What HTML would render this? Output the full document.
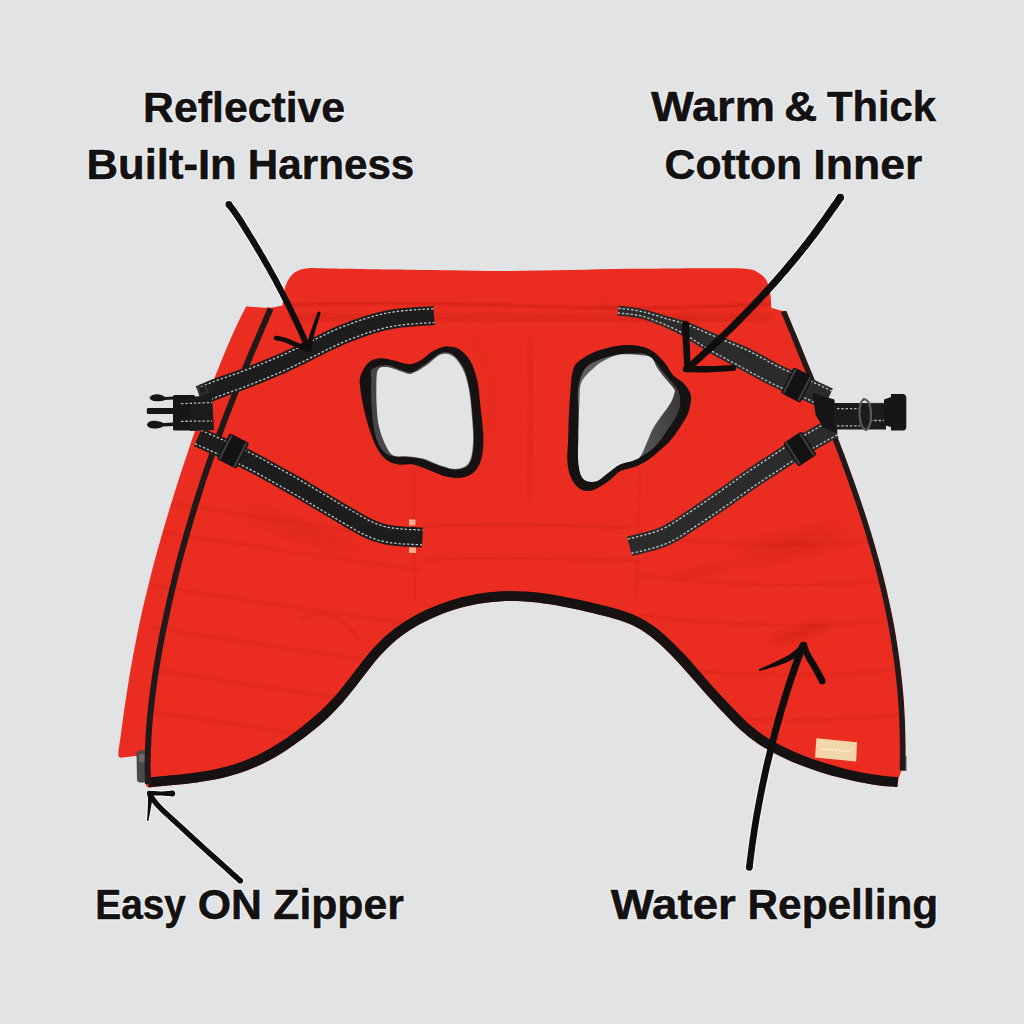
<!DOCTYPE html>
<html><head><meta charset="utf-8">
<style>
html,body{margin:0;padding:0;width:1024px;height:1024px;overflow:hidden;background:#e2e3e5;}
svg{display:block;position:absolute;left:0;top:0;}
text{font-family:"Liberation Sans",sans-serif;font-weight:bold;font-size:42.9px;fill:#131111;stroke:#131111;stroke-width:0.6px;}
.halo text{fill:#f7f7f7;stroke:#f7f7f7;stroke-width:2.4px;stroke-linejoin:round;}
</style></head>
<body>
<svg width="1024" height="1024" viewBox="0 0 1024 1024">
<rect width="1024" height="1024" fill="#e2e3e5"/>
<path d="M246.3,306.3 C249.8,306.6 261.0,307.9 267.0,307.8 C273.0,307.7 279.9,305.9 282.5,305.5 C282.8,302.8 283.2,293.8 284.5,289.0 C285.8,284.2 288.2,279.6 290.5,276.5 C292.8,273.4 295.6,271.9 298.5,270.5 C301.4,269.1 304.8,268.7 308.0,268.3 C311.2,267.9 314.3,268.2 318.0,268.2 C321.7,268.2 323.0,268.3 330.0,268.4 C337.0,268.5 349.3,268.7 360.0,268.9 C370.7,269.1 379.0,269.3 394.0,269.5 C409.0,269.7 431.3,270.1 450.0,270.3 C468.7,270.6 486.0,271.1 506.0,271.0 C526.0,270.9 549.7,270.4 570.0,270.0 C590.3,269.6 609.7,269.1 628.0,268.8 C646.3,268.5 664.7,268.5 680.0,268.4 C695.3,268.3 710.8,268.3 720.0,268.3 C729.2,268.3 730.8,268.2 735.0,268.3 C739.2,268.4 742.0,268.4 745.0,268.7 C748.0,269.0 750.3,269.0 753.0,270.0 C755.7,271.0 758.7,272.6 761.0,274.5 C763.3,276.4 765.5,278.4 767.0,281.5 C768.5,284.6 769.6,288.6 770.3,293.0 C771.0,297.4 771.1,305.2 771.3,307.7 L780.5,310.5 L786.4,311.2 C788.1,315.2 793.2,327.2 796.5,335.3 C799.8,343.4 803.0,351.4 806.3,359.5 C809.6,367.6 812.9,375.6 816.2,383.6 C819.5,391.7 822.7,399.8 825.9,407.8 C829.1,415.9 832.4,423.8 835.5,431.9 C838.6,439.9 841.8,448.1 844.8,456.1 C847.8,464.2 850.7,472.1 853.6,480.2 C856.5,488.2 859.3,496.3 862.0,504.4 C864.7,512.4 867.3,520.5 869.8,528.5 C872.3,536.5 874.6,544.7 876.9,552.7 C879.2,560.8 881.4,568.8 883.4,576.8 C885.4,584.8 887.3,593.0 889.1,601.0 C890.9,609.0 892.5,617.1 894.0,625.1 C895.5,633.1 896.8,641.2 898.0,649.3 C899.2,657.3 900.3,665.3 901.2,673.4 C902.1,681.5 903.0,689.5 903.6,697.6 C904.2,705.7 904.7,713.7 905.0,721.7 C905.3,729.8 905.5,737.9 905.6,745.9 C905.7,753.9 905.4,766.0 905.4,770.0 L901.0,771.5 L898.5,779.0 L897.5,787.0 C895.6,786.9 890.4,786.6 886.2,786.2 C882.0,785.8 877.3,785.2 872.3,784.4 C867.3,783.6 861.6,782.6 856.2,781.5 C850.8,780.4 845.1,779.0 839.6,777.6 C834.1,776.2 828.5,774.6 823.0,772.9 C817.5,771.1 811.9,769.3 806.4,767.3 C800.9,765.3 795.3,763.1 789.8,760.7 C784.3,758.2 778.7,755.7 773.3,752.8 C768.0,750.0 762.6,746.9 757.7,743.5 C752.7,740.2 748.1,736.5 743.7,732.6 C739.2,728.8 735.2,724.6 730.9,720.4 C726.6,716.1 722.4,711.6 718.0,707.0 C713.6,702.3 709.0,697.4 704.5,692.3 C700.0,687.3 695.4,681.9 690.9,676.7 C686.3,671.5 681.8,666.2 677.1,661.2 C672.5,656.3 667.8,651.4 663.0,647.0 C658.3,642.6 653.5,638.4 648.7,634.9 C643.9,631.4 639.3,628.5 634.2,626.0 C629.2,623.5 624.2,621.7 618.1,619.8 C612.1,617.9 605.5,616.3 598.2,614.5 C591.0,612.7 582.8,610.8 574.8,609.1 C566.8,607.4 558.2,605.6 550.0,604.3 C541.8,603.0 533.4,602.0 525.3,601.5 C517.2,601.0 509.4,600.9 501.6,601.2 C493.7,601.6 486.3,602.4 478.4,603.8 C470.6,605.2 462.6,607.1 454.7,609.5 C446.7,612.0 438.3,615.3 430.8,618.7 C423.3,622.2 415.9,626.3 409.7,630.2 C403.5,634.2 398.3,638.2 393.4,642.4 C388.5,646.7 384.5,650.9 380.2,655.6 C376.0,660.3 372.0,665.5 367.8,670.7 C363.7,675.9 359.5,681.7 355.3,687.0 C351.1,692.3 347.1,697.4 342.6,702.6 C338.0,707.7 333.6,712.5 328.0,717.7 C322.4,722.9 316.0,728.4 309.1,733.8 C302.1,739.2 294.1,745.2 286.3,750.2 C278.6,755.2 270.5,759.9 262.6,763.8 C254.7,767.6 246.9,770.7 239.0,773.3 C231.0,775.9 222.9,777.8 214.8,779.5 C206.7,781.1 198.3,782.2 190.6,783.3 C182.8,784.3 175.3,784.9 168.3,785.6 C161.3,786.3 152.1,787.2 148.8,787.5 L146.0,786.0 L145.5,770.0 L145.5,757.0 L135.3,756.0 L120.4,757.8 C120.1,757.2 118.2,757.9 118.3,754.0 C118.4,750.1 120.0,741.0 120.9,734.5 C121.8,728.0 122.6,721.6 123.5,715.1 C124.4,708.6 125.4,702.1 126.4,695.6 C127.4,689.1 128.4,682.6 129.5,676.1 C130.6,669.6 131.7,663.2 132.9,656.7 C134.1,650.2 135.4,643.7 136.7,637.2 C138.0,630.7 139.3,624.2 140.7,617.7 C142.1,611.2 143.6,604.8 145.2,598.3 C146.8,591.8 148.4,585.3 150.0,578.8 C151.6,572.3 153.3,565.8 155.0,559.3 C156.7,552.8 158.6,546.4 160.4,539.9 C162.2,533.4 164.2,526.9 166.1,520.4 C168.0,513.9 170.0,507.5 172.0,501.0 C174.0,494.5 176.0,488.0 178.1,481.5 C180.2,475.0 182.3,468.5 184.5,462.0 C186.7,455.5 188.8,449.1 191.0,442.6 C193.2,436.1 195.5,429.6 197.8,423.1 C200.1,416.6 202.4,410.1 204.8,403.6 C207.2,397.1 209.6,390.7 212.1,384.2 C214.6,377.7 217.2,371.2 219.8,364.7 C222.4,358.2 225.1,351.7 227.9,345.2 C230.7,338.7 233.4,332.3 236.5,325.8 C239.6,319.3 244.7,309.6 246.3,306.3 Z" fill="#eb2d21"/>
<defs><clipPath id="jc"><path d="M246.3,306.3 C249.8,306.6 261.0,307.9 267.0,307.8 C273.0,307.7 279.9,305.9 282.5,305.5 C282.8,302.8 283.2,293.8 284.5,289.0 C285.8,284.2 288.2,279.6 290.5,276.5 C292.8,273.4 295.6,271.9 298.5,270.5 C301.4,269.1 304.8,268.7 308.0,268.3 C311.2,267.9 314.3,268.2 318.0,268.2 C321.7,268.2 323.0,268.3 330.0,268.4 C337.0,268.5 349.3,268.7 360.0,268.9 C370.7,269.1 379.0,269.3 394.0,269.5 C409.0,269.7 431.3,270.1 450.0,270.3 C468.7,270.6 486.0,271.1 506.0,271.0 C526.0,270.9 549.7,270.4 570.0,270.0 C590.3,269.6 609.7,269.1 628.0,268.8 C646.3,268.5 664.7,268.5 680.0,268.4 C695.3,268.3 710.8,268.3 720.0,268.3 C729.2,268.3 730.8,268.2 735.0,268.3 C739.2,268.4 742.0,268.4 745.0,268.7 C748.0,269.0 750.3,269.0 753.0,270.0 C755.7,271.0 758.7,272.6 761.0,274.5 C763.3,276.4 765.5,278.4 767.0,281.5 C768.5,284.6 769.6,288.6 770.3,293.0 C771.0,297.4 771.1,305.2 771.3,307.7 L780.5,310.5 L786.4,311.2 C788.1,315.2 793.2,327.2 796.5,335.3 C799.8,343.4 803.0,351.4 806.3,359.5 C809.6,367.6 812.9,375.6 816.2,383.6 C819.5,391.7 822.7,399.8 825.9,407.8 C829.1,415.9 832.4,423.8 835.5,431.9 C838.6,439.9 841.8,448.1 844.8,456.1 C847.8,464.2 850.7,472.1 853.6,480.2 C856.5,488.2 859.3,496.3 862.0,504.4 C864.7,512.4 867.3,520.5 869.8,528.5 C872.3,536.5 874.6,544.7 876.9,552.7 C879.2,560.8 881.4,568.8 883.4,576.8 C885.4,584.8 887.3,593.0 889.1,601.0 C890.9,609.0 892.5,617.1 894.0,625.1 C895.5,633.1 896.8,641.2 898.0,649.3 C899.2,657.3 900.3,665.3 901.2,673.4 C902.1,681.5 903.0,689.5 903.6,697.6 C904.2,705.7 904.7,713.7 905.0,721.7 C905.3,729.8 905.5,737.9 905.6,745.9 C905.7,753.9 905.4,766.0 905.4,770.0 L901.0,771.5 L898.5,779.0 L897.5,787.0 C895.6,786.9 890.4,786.6 886.2,786.2 C882.0,785.8 877.3,785.2 872.3,784.4 C867.3,783.6 861.6,782.6 856.2,781.5 C850.8,780.4 845.1,779.0 839.6,777.6 C834.1,776.2 828.5,774.6 823.0,772.9 C817.5,771.1 811.9,769.3 806.4,767.3 C800.9,765.3 795.3,763.1 789.8,760.7 C784.3,758.2 778.7,755.7 773.3,752.8 C768.0,750.0 762.6,746.9 757.7,743.5 C752.7,740.2 748.1,736.5 743.7,732.6 C739.2,728.8 735.2,724.6 730.9,720.4 C726.6,716.1 722.4,711.6 718.0,707.0 C713.6,702.3 709.0,697.4 704.5,692.3 C700.0,687.3 695.4,681.9 690.9,676.7 C686.3,671.5 681.8,666.2 677.1,661.2 C672.5,656.3 667.8,651.4 663.0,647.0 C658.3,642.6 653.5,638.4 648.7,634.9 C643.9,631.4 639.3,628.5 634.2,626.0 C629.2,623.5 624.2,621.7 618.1,619.8 C612.1,617.9 605.5,616.3 598.2,614.5 C591.0,612.7 582.8,610.8 574.8,609.1 C566.8,607.4 558.2,605.6 550.0,604.3 C541.8,603.0 533.4,602.0 525.3,601.5 C517.2,601.0 509.4,600.9 501.6,601.2 C493.7,601.6 486.3,602.4 478.4,603.8 C470.6,605.2 462.6,607.1 454.7,609.5 C446.7,612.0 438.3,615.3 430.8,618.7 C423.3,622.2 415.9,626.3 409.7,630.2 C403.5,634.2 398.3,638.2 393.4,642.4 C388.5,646.7 384.5,650.9 380.2,655.6 C376.0,660.3 372.0,665.5 367.8,670.7 C363.7,675.9 359.5,681.7 355.3,687.0 C351.1,692.3 347.1,697.4 342.6,702.6 C338.0,707.7 333.6,712.5 328.0,717.7 C322.4,722.9 316.0,728.4 309.1,733.8 C302.1,739.2 294.1,745.2 286.3,750.2 C278.6,755.2 270.5,759.9 262.6,763.8 C254.7,767.6 246.9,770.7 239.0,773.3 C231.0,775.9 222.9,777.8 214.8,779.5 C206.7,781.1 198.3,782.2 190.6,783.3 C182.8,784.3 175.3,784.9 168.3,785.6 C161.3,786.3 152.1,787.2 148.8,787.5 L146.0,786.0 L145.5,770.0 L145.5,757.0 L135.3,756.0 L120.4,757.8 C120.1,757.2 118.2,757.9 118.3,754.0 C118.4,750.1 120.0,741.0 120.9,734.5 C121.8,728.0 122.6,721.6 123.5,715.1 C124.4,708.6 125.4,702.1 126.4,695.6 C127.4,689.1 128.4,682.6 129.5,676.1 C130.6,669.6 131.7,663.2 132.9,656.7 C134.1,650.2 135.4,643.7 136.7,637.2 C138.0,630.7 139.3,624.2 140.7,617.7 C142.1,611.2 143.6,604.8 145.2,598.3 C146.8,591.8 148.4,585.3 150.0,578.8 C151.6,572.3 153.3,565.8 155.0,559.3 C156.7,552.8 158.6,546.4 160.4,539.9 C162.2,533.4 164.2,526.9 166.1,520.4 C168.0,513.9 170.0,507.5 172.0,501.0 C174.0,494.5 176.0,488.0 178.1,481.5 C180.2,475.0 182.3,468.5 184.5,462.0 C186.7,455.5 188.8,449.1 191.0,442.6 C193.2,436.1 195.5,429.6 197.8,423.1 C200.1,416.6 202.4,410.1 204.8,403.6 C207.2,397.1 209.6,390.7 212.1,384.2 C214.6,377.7 217.2,371.2 219.8,364.7 C222.4,358.2 225.1,351.7 227.9,345.2 C230.7,338.7 233.4,332.3 236.5,325.8 C239.6,319.3 244.7,309.6 246.3,306.3 Z"/></clipPath><filter id="b1" x="-20%" y="-20%" width="140%" height="140%"><feGaussianBlur stdDeviation="1.2"/></filter><filter id="b3" x="-20%" y="-20%" width="140%" height="140%"><feGaussianBlur stdDeviation="3.5"/></filter><filter id="b8" x="-20%" y="-20%" width="140%" height="140%"><feGaussianBlur stdDeviation="8"/></filter></defs>
<g clip-path="url(#jc)"><path d="M290,281 L770,281" stroke="#f6553f" stroke-width="16" opacity="0.35" filter="url(#b3)"/><path d="M286,305 Q400,301 520,306 T772,304" stroke="#a8160c" stroke-width="2.2" opacity="0.45" fill="none" filter="url(#b1)"/><path d="M290,316 Q420,312 520,318 T770,316" stroke="#b81a10" stroke-width="12" opacity="0.28" fill="none" filter="url(#b3)"/><path d="M530,340 Q535,420 528,500" stroke="#b71a10" stroke-width="9" opacity="0.25" fill="none" filter="url(#b3)"/><path d="M423,526 Q520,522 630,528" stroke="#a8160c" stroke-width="1.6" opacity="0.4" fill="none" filter="url(#b1)"/><path d="M423,559 Q520,556 640,561" stroke="#a8160c" stroke-width="1.6" opacity="0.35" fill="none" filter="url(#b1)"/><path d="M413,470 L415,600" stroke="#b01a10" stroke-width="1.5" opacity="0.35" fill="none" filter="url(#b1)"/><path d="M640,470 L636,600" stroke="#b01a10" stroke-width="1.5" opacity="0.3" fill="none" filter="url(#b1)"/><path d="M150,500 Q260,518 420,540" stroke="#b51b10" stroke-width="1.4" opacity="0.35" fill="none" filter="url(#b1)"/><path d="M150,530 Q260,548 420,570" stroke="#b51b10" stroke-width="1.4" opacity="0.35" fill="none" filter="url(#b1)"/><path d="M150,585 Q260,603 420,625" stroke="#b51b10" stroke-width="1.4" opacity="0.35" fill="none" filter="url(#b1)"/><path d="M150,627 Q260,645 420,667" stroke="#b51b10" stroke-width="1.4" opacity="0.35" fill="none" filter="url(#b1)"/><path d="M150,669 Q260,687 420,709" stroke="#b51b10" stroke-width="1.4" opacity="0.35" fill="none" filter="url(#b1)"/><path d="M150,711 Q260,729 420,751" stroke="#b51b10" stroke-width="1.4" opacity="0.35" fill="none" filter="url(#b1)"/><path d="M640,535 Q760,552 900,540" stroke="#b51b10" stroke-width="1.4" opacity="0.3" fill="none" filter="url(#b1)"/><path d="M640,575 Q760,592 900,580" stroke="#b51b10" stroke-width="1.4" opacity="0.3" fill="none" filter="url(#b1)"/><path d="M640,615 Q760,632 900,620" stroke="#b51b10" stroke-width="1.4" opacity="0.3" fill="none" filter="url(#b1)"/><path d="M640,665 Q760,682 900,670" stroke="#b51b10" stroke-width="1.4" opacity="0.3" fill="none" filter="url(#b1)"/><path d="M640,710 Q760,727 900,715" stroke="#b51b10" stroke-width="1.4" opacity="0.3" fill="none" filter="url(#b1)"/><ellipse cx="790" cy="545" rx="55" ry="12" fill="#b3190f" opacity="0.22" filter="url(#b8)" transform="rotate(-12 790 545)"/><ellipse cx="300" cy="530" rx="60" ry="10" fill="#b3190f" opacity="0.18" filter="url(#b8)" transform="rotate(18 300 530)"/><ellipse cx="800" cy="633" rx="32" ry="6" fill="#b3190f" opacity="0.28" filter="url(#b3)" transform="rotate(-18 800 633)"/><ellipse cx="700" cy="572" rx="30" ry="5" fill="#b3190f" opacity="0.2" filter="url(#b3)" transform="rotate(-10 700 572)"/><path d="M600,300 Q640,330 690,318" stroke="#b3190f" stroke-width="5" opacity="0.22" fill="none" filter="url(#b3)"/><path d="M300,620 Q330,600 360,640" stroke="#b3190f" stroke-width="3" opacity="0.2" fill="none" filter="url(#b1)"/><path d="M470,330 Q500,380 490,440" stroke="#b3190f" stroke-width="4" opacity="0.18" fill="none" filter="url(#b3)"/></g>
<path d="M897.5,787.0 C895.6,786.9 890.4,786.6 886.2,786.2 C882.0,785.8 877.3,785.2 872.3,784.4 C867.3,783.6 861.6,782.6 856.2,781.5 C850.8,780.4 845.1,779.0 839.6,777.6 C834.1,776.2 828.5,774.6 823.0,772.9 C817.5,771.1 811.9,769.3 806.4,767.3 C800.9,765.3 795.3,763.1 789.8,760.7 C784.3,758.2 778.7,755.7 773.3,752.8 C768.0,750.0 762.6,746.9 757.7,743.5 C752.7,740.2 748.1,736.5 743.7,732.6 C739.2,728.8 735.2,724.6 730.9,720.4 C726.6,716.1 722.4,711.6 718.0,707.0 C713.6,702.3 709.0,697.4 704.5,692.3 C700.0,687.3 695.4,681.9 690.9,676.7 C686.3,671.5 681.8,666.2 677.1,661.2 C672.5,656.3 667.8,651.4 663.0,647.0 C658.3,642.6 653.5,638.4 648.7,634.9 C643.9,631.4 639.3,628.5 634.2,626.0 C629.2,623.5 624.2,621.7 618.1,619.8 C612.1,617.9 605.5,616.3 598.2,614.5 C591.0,612.7 582.8,610.8 574.8,609.1 C566.8,607.4 558.2,605.6 550.0,604.3 C541.8,603.0 533.4,602.0 525.3,601.5 C517.2,601.0 509.4,600.9 501.6,601.2 C493.7,601.6 486.3,602.4 478.4,603.8 C470.6,605.2 462.6,607.1 454.7,609.5 C446.7,612.0 438.3,615.3 430.8,618.7 C423.3,622.2 415.9,626.3 409.7,630.2 C403.5,634.2 398.3,638.2 393.4,642.4 C388.5,646.7 384.5,650.9 380.2,655.6 C376.0,660.3 372.0,665.5 367.8,670.7 C363.7,675.9 359.5,681.7 355.3,687.0 C351.1,692.3 347.1,697.4 342.6,702.6 C338.0,707.7 333.6,712.5 328.0,717.7 C322.4,722.9 316.0,728.4 309.1,733.8 C302.1,739.2 294.1,745.2 286.3,750.2 C278.6,755.2 270.5,759.9 262.6,763.8 C254.7,767.6 246.9,770.7 239.0,773.3 C231.0,775.9 222.9,777.8 214.8,779.5 C206.7,781.1 198.3,782.2 190.6,783.3 C182.8,784.3 175.3,784.9 168.3,785.6 C161.3,786.3 152.1,787.2 148.8,787.5" stroke="#161212" stroke-width="20" fill="none" clip-path="url(#jc)"/>
<path d="M136.5,753 Q137,750.5 140,750.5 L144,750.5 Q147,751 147.5,754 L148,780 Q147.5,782.5 144.5,782.5 L139.5,782.5 Q137,782 137,779 Z" fill="#4b4b4b"/>
<rect x="139" y="754" width="6" height="8" rx="1" fill="#6a6a6a"/>
<path d="M900.5,756 L906.5,756 L906.5,771 L900.5,771 Z" fill="#4f4f4f"/>
<path d="M270.6,308.5 C269.0,312.3 264.1,323.6 260.9,331.1 C257.7,338.7 254.4,346.2 251.2,353.8 C248.0,361.4 244.9,368.8 241.8,376.4 C238.7,383.9 235.8,391.6 232.8,399.1 C229.8,406.7 226.8,414.1 224.0,421.7 C221.2,429.2 218.4,436.8 215.7,444.4 C213.0,451.9 210.3,459.5 207.7,467.0 C205.1,474.5 202.6,482.1 200.2,489.6 C197.8,497.2 195.4,504.7 193.1,512.3 C190.8,519.8 188.7,527.3 186.5,534.9 C184.3,542.5 182.2,550.0 180.2,557.6 C178.2,565.2 176.2,572.7 174.4,580.2 C172.6,587.8 170.8,595.4 169.1,602.9 C167.4,610.4 165.8,618.0 164.2,625.5 C162.6,633.0 161.2,640.6 159.8,648.1 C158.4,655.6 157.1,663.2 155.9,670.8 C154.7,678.3 153.7,685.8 152.7,693.4 C151.7,701.0 150.8,708.5 150.1,716.1 C149.4,723.7 148.8,731.2 148.4,738.7 C148.0,746.2 147.7,753.9 147.6,761.4 C147.5,768.9 147.9,780.2 148.0,784.0" stroke="#201a1a" stroke-width="6" fill="none"/>
<path d="M783.5,311.2 C785.2,315.2 790.3,327.2 793.6,335.3 C796.9,343.4 800.1,351.4 803.4,359.5 C806.7,367.6 810.0,375.6 813.3,383.6 C816.6,391.7 819.8,399.8 823.0,407.8 C826.2,415.9 829.5,423.8 832.6,431.9 C835.8,439.9 838.9,448.1 841.9,456.1 C844.9,464.2 847.8,472.1 850.7,480.2 C853.6,488.2 856.4,496.3 859.1,504.4 C861.8,512.4 864.4,520.5 866.9,528.5 C869.4,536.5 871.7,544.7 874.0,552.7 C876.3,560.8 878.5,568.8 880.5,576.8 C882.5,584.8 884.4,593.0 886.2,601.0 C888.0,609.0 889.6,617.1 891.1,625.1 C892.6,633.1 893.9,641.2 895.1,649.3 C896.3,657.3 897.4,665.3 898.3,673.4 C899.2,681.5 900.1,689.5 900.7,697.6 C901.3,705.7 901.8,713.7 902.1,721.7 C902.4,729.8 902.6,737.9 902.7,745.9 C902.8,753.9 902.5,766.0 902.5,770.0" stroke="#201a1a" stroke-width="5.6" fill="none" clip-path="url(#jc)"/>
<defs><linearGradient id="lg1" x1="0" y1="0" x2="1" y2="0"><stop offset="0" stop-color="#454343"/><stop offset="1" stop-color="#676565"/></linearGradient><linearGradient id="lg2" x1="1" y1="0" x2="0" y2="0"><stop offset="0" stop-color="#3a3838"/><stop offset="0.35" stop-color="#555353"/><stop offset="1" stop-color="#626060"/></linearGradient></defs>
<path d="M360.3,376.6 C361.5,372.5 364.4,366.4 367.6,363.4 C370.8,360.3 374.9,358.8 379.3,358.3 C383.7,357.8 389.1,359.5 394.0,360.5 C398.9,361.5 404.2,364.2 408.6,364.2 C413.0,364.2 416.4,362.6 420.3,360.5 C424.2,358.4 427.9,354.0 432.0,351.7 C436.1,349.4 440.8,347.1 445.2,346.6 C449.6,346.1 454.2,346.5 458.4,348.8 C462.5,351.1 466.9,355.1 470.1,360.5 C473.3,365.9 475.7,373.4 477.4,381.0 C479.1,388.6 479.4,396.9 480.4,405.9 C481.4,414.9 483.1,426.6 483.3,435.2 C483.5,443.8 483.3,451.1 481.8,457.2 C480.3,463.3 477.9,468.4 474.5,471.8 C471.1,475.2 466.2,477.0 461.3,477.7 C456.4,478.4 451.1,477.7 445.2,476.2 C439.3,474.7 431.6,470.8 426.2,468.9 C420.8,466.9 417.6,465.2 413.0,464.5 C408.4,463.8 402.7,465.2 398.3,464.5 C393.9,463.8 390.2,463.0 386.6,460.1 C383.0,457.2 379.3,452.3 376.4,446.9 C373.5,441.5 371.2,434.7 369.0,427.9 C366.8,421.1 364.6,412.5 363.2,405.9 C361.8,399.3 360.8,393.2 360.3,388.3 C359.8,383.4 359.1,380.8 360.3,376.6 Z" fill="#161212"/>
<path d="M372.0,369.3 C374.5,367.1 381.7,364.8 386.6,364.9 C391.5,365.0 397.1,368.8 401.3,370.0 C405.4,371.2 407.4,373.3 411.5,372.2 C415.7,371.1 421.3,366.6 426.2,363.4 C431.1,360.3 436.4,354.6 440.8,353.2 C445.2,351.7 448.8,352.2 452.5,354.6 C456.3,357.1 460.7,362.2 463.5,367.8 C466.3,373.4 467.9,380.8 469.4,388.3 C470.8,395.9 471.6,404.2 472.3,413.2 C473.0,422.3 474.3,434.1 473.8,442.5 C473.3,451.0 472.4,459.3 469.4,463.8 C466.3,468.3 460.7,469.4 455.5,469.6 C450.2,469.9 443.3,466.9 437.9,465.2 C432.5,463.5 428.1,460.7 423.2,459.4 C418.4,458.0 413.5,457.7 408.6,457.2 C403.7,456.7 397.8,457.2 393.9,456.4 C390.0,455.7 387.8,455.1 385.2,452.8 C382.5,450.5 379.8,447.2 377.8,442.5 C375.9,437.9 374.5,432.3 373.4,425.0 C372.3,417.6 371.6,406.4 371.2,398.6 C370.9,390.8 371.1,383.0 371.2,378.1 C371.4,373.2 369.4,371.5 372.0,369.3 Z" fill="url(#lg1)"/>
<path d="M377.8,370.0 C379.5,366.7 382.7,366.9 386.6,367.1 C390.5,367.3 397.1,370.4 401.3,371.5 C405.4,372.6 407.4,374.7 411.5,373.7 C415.7,372.7 421.3,368.8 426.2,365.6 C431.1,362.5 436.4,356.2 440.8,354.6 C445.2,353.1 448.9,353.7 452.5,356.1 C456.2,358.6 460.1,363.9 462.8,369.3 C465.5,374.7 467.2,381.0 468.6,388.3 C470.1,395.7 470.8,404.2 471.6,413.2 C472.3,422.3 473.5,434.2 473.0,442.5 C472.6,450.8 471.6,458.6 468.6,463.0 C465.7,467.4 460.6,468.7 455.5,468.9 C450.3,469.1 443.3,466.2 437.9,464.5 C432.5,462.8 428.1,460.0 423.2,458.6 C418.4,457.3 413.5,456.9 408.6,456.4 C403.7,456.0 397.5,457.1 393.9,455.7 C390.4,454.4 389.4,451.8 387.4,448.4 C385.3,445.0 383.0,439.6 381.5,435.2 C380.0,430.8 378.9,426.9 378.1,422.0 C377.3,417.1 377.0,411.8 376.7,405.9 C376.4,400.1 376.2,392.9 376.4,386.9 C376.6,380.9 376.1,373.3 377.8,370.0 Z" fill="#e2e3e5"/>
<path d="M572.2,374.0 C573.2,369.6 573.3,366.7 576.9,363.1 C580.5,359.5 586.8,355.1 594.0,352.2 C601.2,349.3 612.2,346.5 620.0,345.5 C627.8,344.5 634.8,345.1 640.5,346.2 C646.2,347.3 650.1,349.4 654.2,352.3 C658.3,355.2 661.9,359.4 665.1,363.3 C668.3,367.2 670.4,372.4 673.4,375.6 C676.4,378.8 680.3,379.9 682.9,382.4 C685.5,384.9 687.7,387.9 689.1,390.6 C690.5,393.3 691.2,395.2 691.1,398.8 C691.0,402.4 690.0,408.2 688.4,412.5 C686.8,416.8 684.3,420.5 681.6,424.8 C678.9,429.1 675.4,434.4 672.0,438.5 C668.6,442.6 665.1,445.8 661.0,449.4 C656.9,453.0 651.9,457.4 647.4,460.4 C642.9,463.4 638.3,465.4 633.7,467.2 C629.1,469.0 624.0,469.1 620.0,471.3 C616.0,473.5 614.0,477.2 609.7,480.3 C605.4,483.4 598.7,488.1 594.0,489.7 C589.3,491.3 585.2,491.3 581.6,489.7 C578.0,488.1 574.6,484.7 572.2,480.3 C569.9,475.9 568.1,470.4 567.5,463.1 C566.9,455.8 568.0,444.9 568.3,436.6 C568.5,428.3 568.6,420.9 569.0,413.1 C569.4,405.3 570.1,396.2 570.6,389.7 C571.1,383.2 571.2,378.4 572.2,374.0 Z" fill="#161212"/>
<path d="M578.0,390.0 C578.8,383.7 580.3,376.7 583.0,372.0 C585.7,367.3 588.2,364.9 594.0,362.0 C599.8,359.1 609.8,355.9 617.5,354.5 C625.2,353.1 635.0,353.4 640.0,353.5 C645.0,353.6 644.8,353.6 647.4,355.0 C650.0,356.4 652.9,358.9 655.6,361.9 C658.3,364.9 660.8,369.1 663.8,372.8 C666.8,376.5 670.9,380.6 673.4,383.8 C675.9,387.0 677.7,388.8 678.8,392.0 C679.9,395.2 680.4,399.4 680.2,403.0 C680.0,406.6 679.3,409.8 677.5,413.9 C675.7,418.0 672.2,423.1 669.2,427.6 C666.2,432.2 662.9,437.3 659.7,441.2 C656.5,445.1 654.0,447.8 650.1,450.8 C646.2,453.8 641.4,456.9 636.4,459.0 C631.4,461.1 624.7,460.9 620.0,463.1 C615.3,465.3 612.2,469.1 608.1,472.0 C604.0,474.9 599.8,479.4 595.6,480.5 C591.4,481.6 586.0,481.4 583.1,478.5 C580.2,475.6 579.2,470.1 578.4,463.1 C577.6,456.1 578.4,445.5 578.4,436.6 C578.4,427.8 578.5,417.8 578.4,410.0 C578.3,402.2 577.2,396.3 578.0,390.0 Z" fill="url(#lg2)"/>
<path d="M579.5,400.0 C580.0,390.9 579.2,387.3 581.6,381.9 C584.0,376.5 590.1,371.4 594.0,367.8 C597.9,364.2 600.7,362.2 605.0,360.0 C609.3,357.8 614.2,355.3 620.0,354.5 C625.8,353.7 634.8,354.4 640.0,355.0 C645.2,355.6 648.7,355.7 651.5,357.8 C654.3,359.9 654.7,364.0 657.0,367.4 C659.3,370.8 662.4,374.9 665.1,378.3 C667.8,381.7 671.8,385.6 673.4,387.9 C675.0,390.2 675.2,389.5 674.7,392.0 C674.2,394.5 672.9,398.9 670.6,403.0 C668.3,407.1 664.0,412.3 661.0,416.6 C658.0,420.9 655.1,424.8 652.8,428.9 C650.5,433.0 649.4,436.6 647.4,441.2 C645.4,445.8 642.8,453.1 640.5,456.3 C638.2,459.5 637.1,459.0 633.7,460.4 C630.3,461.8 624.3,462.4 620.0,464.5 C615.7,466.6 612.2,470.2 608.1,473.0 C604.0,475.8 599.8,480.6 595.6,481.5 C591.4,482.4 586.0,481.8 583.1,478.7 C580.2,475.6 579.2,470.1 578.4,463.1 C577.6,456.1 578.2,447.1 578.4,436.6 C578.6,426.1 579.0,409.1 579.5,400.0 Z" fill="#e2e3e5"/>
<path d="M816.4,738.2 L857,742.2 L856.2,761.4 L815,757.6 Z" fill="#f1d6aa"/>
<path d="M822,749 L850,751.5" stroke="#fff6e6" stroke-width="1.6" stroke-dasharray="3 1.2" opacity="0.8"/>
<rect x="409" y="519.5" width="6.5" height="6" fill="#f3a98a"/><rect x="409" y="547.5" width="7" height="5.5" fill="#f3a98a"/>
<path d="M204.3,405.6 L205.1,405.2 L206.1,404.8 L207.2,404.2 L208.4,403.7 L209.7,403.0 L211.1,402.4 L212.6,401.7 L214.2,401.0 L215.8,400.3 L217.4,399.6 L219.1,398.9 L220.7,398.3 L222.4,397.6 L224.2,396.9 L226.1,396.2 L228.1,395.5 L230.2,394.8 L232.4,394.0 L234.6,393.3 L236.9,392.5 L239.2,391.6 L241.7,390.7 L244.1,389.8 L246.6,388.8 L249.2,387.8 L251.9,386.8 L254.7,385.7 L257.6,384.5 L260.5,383.4 L263.4,382.2 L266.3,381.0 L269.2,379.8 L272.1,378.6 L274.8,377.4 L277.5,376.3 L279.9,375.3 L282.2,374.3 L284.3,373.4 L286.2,372.5 L288.1,371.7 L289.8,370.9 L291.5,370.1 L293.3,369.2 L295.1,368.3 L297.1,367.4 L299.2,366.4 L301.6,365.2 L304.3,364.0 L307.3,362.5 L310.6,360.9 L314.0,359.1 L317.6,357.3 L321.3,355.4 L325.1,353.5 L329.0,351.6 L332.8,349.7 L336.7,347.9 L340.4,346.2 L344.1,344.6 L347.7,343.1 L351.2,341.7 L354.8,340.3 L358.3,338.9 L361.9,337.6 L365.4,336.4 L368.9,335.2 L372.4,334.1 L375.9,333.0 L379.4,332.0 L382.9,331.1 L386.4,330.2 L389.9,329.5 L393.5,328.8 L397.4,328.2 L401.5,327.6 L405.8,327.2 L410.2,326.8 L414.5,326.4 L418.6,326.1 L422.6,325.8 L426.3,325.6 L429.6,325.4 L432.5,325.2 L434.8,325.0 L433.2,306.0 L431.1,306.2 L428.3,306.4 L425.1,306.6 L421.4,306.8 L417.3,307.0 L413.0,307.3 L408.5,307.7 L403.9,308.1 L399.3,308.6 L394.8,309.1 L390.3,309.8 L386.1,310.5 L382.1,311.4 L378.2,312.3 L374.3,313.3 L370.5,314.4 L366.7,315.5 L362.9,316.7 L359.1,318.0 L355.3,319.3 L351.6,320.6 L347.8,322.0 L344.1,323.5 L340.3,324.9 L336.4,326.5 L332.4,328.3 L328.4,330.1 L324.3,332.0 L320.3,333.9 L316.4,335.9 L312.5,337.8 L308.7,339.7 L305.2,341.4 L301.8,343.1 L298.6,344.7 L295.7,346.0 L293.1,347.3 L290.7,348.4 L288.5,349.4 L286.6,350.3 L284.8,351.1 L283.1,351.9 L281.5,352.7 L279.8,353.4 L278.1,354.2 L276.3,354.9 L274.3,355.8 L272.1,356.7 L269.6,357.7 L267.1,358.8 L264.4,359.9 L261.6,361.0 L258.7,362.2 L255.8,363.3 L252.9,364.5 L250.1,365.6 L247.2,366.7 L244.5,367.8 L241.9,368.8 L239.4,369.8 L237.0,370.6 L234.7,371.5 L232.4,372.3 L230.1,373.1 L227.9,373.8 L225.6,374.6 L223.5,375.3 L221.4,376.1 L219.3,376.8 L217.2,377.5 L215.2,378.2 L213.3,378.9 L211.3,379.7 L209.5,380.4 L207.6,381.2 L205.9,381.9 L204.2,382.7 L202.6,383.4 L201.1,384.0 L199.7,384.6 L198.5,385.2 L197.4,385.7 L196.5,386.1 L195.7,386.4 Z" fill="#1d1d1d"/><path d="M203.2,403.2 L204.0,402.8 L205.0,402.4 L206.1,401.9 L207.3,401.3 L208.7,400.7 L210.1,400.0 L211.6,399.3 L213.1,398.6 L214.8,397.9 L216.4,397.2 L218.1,396.5 L219.8,395.8 L221.5,395.2 L223.4,394.5 L225.3,393.8 L227.3,393.1 L229.4,392.3 L231.5,391.6 L233.7,390.8 L236.0,390.0 L238.4,389.2 L240.8,388.3 L243.2,387.4 L245.7,386.4 L248.3,385.4 L251.0,384.4 L253.7,383.3 L256.6,382.1 L259.5,380.9 L262.4,379.8 L265.4,378.6 L268.3,377.4 L271.1,376.2 L273.8,375.0 L276.4,373.9 L278.9,372.9 L281.2,371.9 L283.3,371.0 L285.2,370.1 L287.0,369.3 L288.7,368.5 L290.4,367.7 L292.2,366.9 L294.0,366.0 L296.0,365.1 L298.1,364.0 L300.5,362.9 L303.1,361.6 L306.2,360.2 L309.4,358.5 L312.9,356.8 L316.5,355.0 L320.2,353.1 L324.0,351.2 L327.8,349.3 L331.7,347.4 L335.6,345.5 L339.4,343.8 L343.1,342.2 L346.7,340.7 L350.3,339.2 L353.9,337.8 L357.4,336.5 L361.0,335.2 L364.5,333.9 L368.1,332.7 L371.6,331.6 L375.2,330.5 L378.7,329.5 L382.3,328.6 L385.8,327.7 L389.4,326.9 L393.1,326.2 L397.0,325.6 L401.2,325.1 L405.6,324.6 L409.9,324.2 L414.3,323.8 L418.5,323.5 L422.4,323.2 L426.1,323.0 L429.4,322.8 L432.3,322.6 L434.6,322.4" stroke="#c4c4c4" stroke-width="1.3" stroke-dasharray="2.4 1.9" fill="none"/><path d="M196.8,388.8 L197.6,388.5 L198.5,388.0 L199.6,387.6 L200.8,387.0 L202.2,386.4 L203.7,385.7 L205.3,385.0 L206.9,384.3 L208.7,383.6 L210.5,382.8 L212.3,382.1 L214.2,381.4 L216.1,380.6 L218.1,379.9 L220.1,379.2 L222.2,378.5 L224.3,377.8 L226.5,377.1 L228.7,376.3 L231.0,375.5 L233.2,374.7 L235.6,373.9 L237.9,373.1 L240.3,372.2 L242.8,371.2 L245.4,370.2 L248.2,369.2 L251.0,368.0 L253.9,366.9 L256.8,365.8 L259.7,364.6 L262.6,363.5 L265.4,362.3 L268.1,361.2 L270.6,360.1 L273.1,359.1 L275.3,358.2 L277.3,357.3 L279.1,356.5 L280.9,355.8 L282.5,355.0 L284.2,354.3 L285.9,353.5 L287.7,352.7 L289.7,351.7 L291.8,350.7 L294.2,349.6 L296.9,348.4 L299.8,347.0 L302.9,345.5 L306.3,343.8 L309.9,342.0 L313.7,340.1 L317.5,338.2 L321.5,336.3 L325.5,334.3 L329.5,332.4 L333.5,330.6 L337.5,328.9 L341.3,327.3 L345.1,325.9 L348.8,324.5 L352.5,323.1 L356.2,321.7 L359.9,320.4 L363.7,319.2 L367.4,318.0 L371.2,316.9 L375.0,315.8 L378.8,314.8 L382.7,313.9 L386.6,313.1 L390.7,312.3 L395.1,311.7 L399.6,311.1 L404.2,310.7 L408.8,310.3 L413.2,309.9 L417.5,309.6 L421.6,309.4 L425.3,309.2 L428.5,309.0 L431.3,308.8 L433.4,308.6" stroke="#c4c4c4" stroke-width="1.3" stroke-dasharray="2.4 1.9" fill="none"/>
<path d="M193.9,446.1 L196.1,447.1 L199.0,448.4 L202.2,449.8 L205.9,451.4 L209.8,453.2 L214.0,455.1 L218.4,457.0 L222.8,459.0 L227.2,461.0 L231.5,463.1 L235.7,465.0 L239.5,466.9 L243.3,468.9 L247.2,470.9 L251.2,473.0 L255.2,475.1 L259.2,477.3 L263.2,479.5 L267.2,481.7 L271.1,483.8 L274.8,485.9 L278.4,488.0 L281.9,489.9 L285.1,491.7 L288.1,493.4 L290.8,495.0 L293.4,496.5 L295.9,497.9 L298.2,499.2 L300.4,500.6 L302.6,501.9 L304.8,503.2 L307.0,504.5 L309.2,505.8 L311.5,507.2 L313.9,508.6 L316.4,510.1 L318.9,511.5 L321.4,513.0 L323.9,514.6 L326.5,516.1 L329.0,517.6 L331.6,519.1 L334.1,520.6 L336.6,522.1 L339.0,523.5 L341.4,524.9 L343.6,526.2 L345.8,527.4 L347.9,528.6 L350.0,529.8 L352.0,531.0 L354.0,532.1 L356.0,533.2 L358.0,534.3 L360.0,535.4 L362.0,536.4 L364.1,537.4 L366.1,538.4 L368.2,539.2 L370.1,540.0 L372.0,540.7 L373.8,541.4 L375.6,542.0 L377.4,542.6 L379.3,543.1 L381.1,543.5 L383.0,544.0 L384.9,544.4 L386.8,544.7 L388.9,545.1 L391.1,545.4 L393.6,545.7 L396.4,546.0 L399.3,546.3 L402.2,546.5 L405.3,546.7 L408.3,546.8 L411.2,547.0 L413.9,547.1 L416.4,547.2 L418.7,547.3 L420.5,547.4 L421.9,547.5 L423.1,527.5 L421.5,527.4 L419.6,527.3 L417.3,527.2 L414.8,527.1 L412.1,527.0 L409.3,526.9 L406.4,526.7 L403.6,526.5 L400.8,526.3 L398.2,526.1 L395.9,525.9 L393.9,525.6 L392.1,525.3 L390.3,525.0 L388.7,524.7 L387.2,524.4 L385.8,524.1 L384.4,523.7 L383.1,523.4 L381.8,523.0 L380.4,522.5 L379.0,522.0 L377.4,521.4 L375.8,520.8 L374.2,520.1 L372.6,519.3 L371.0,518.5 L369.3,517.7 L367.5,516.7 L365.7,515.8 L363.9,514.7 L361.9,513.6 L359.9,512.5 L357.9,511.3 L355.7,510.1 L353.6,508.8 L351.3,507.5 L349.0,506.2 L346.7,504.8 L344.3,503.4 L341.8,501.9 L339.3,500.4 L336.7,498.9 L334.2,497.4 L331.6,495.9 L329.1,494.4 L326.6,492.9 L324.1,491.4 L321.7,490.0 L319.4,488.6 L317.2,487.3 L315.1,486.0 L312.9,484.7 L310.6,483.4 L308.3,482.0 L306.0,480.6 L303.4,479.1 L300.8,477.6 L297.9,476.0 L294.9,474.3 L291.7,472.5 L288.2,470.5 L284.6,468.5 L280.8,466.4 L276.9,464.2 L272.9,462.0 L268.8,459.8 L264.7,457.5 L260.6,455.3 L256.5,453.2 L252.4,451.1 L248.5,449.1 L244.4,447.0 L240.1,445.0 L235.6,442.9 L231.1,440.8 L226.6,438.8 L222.2,436.8 L218.0,434.9 L214.0,433.2 L210.3,431.5 L207.1,430.1 L204.3,428.9 L202.1,427.9 Z" fill="#1d1d1d"/><path d="M195.0,443.7 L197.2,444.8 L200.0,446.0 L203.3,447.4 L206.9,449.1 L210.9,450.8 L215.1,452.7 L219.5,454.6 L223.9,456.7 L228.3,458.7 L232.6,460.7 L236.8,462.7 L240.7,464.6 L244.5,466.6 L248.4,468.6 L252.4,470.7 L256.5,472.8 L260.5,475.0 L264.5,477.2 L268.4,479.4 L272.3,481.6 L276.1,483.7 L279.7,485.7 L283.1,487.6 L286.4,489.5 L289.4,491.1 L292.1,492.7 L294.7,494.2 L297.2,495.6 L299.5,497.0 L301.7,498.3 L303.9,499.6 L306.1,500.9 L308.3,502.3 L310.5,503.6 L312.8,505.0 L315.2,506.4 L317.7,507.8 L320.2,509.3 L322.7,510.8 L325.3,512.3 L327.8,513.9 L330.4,515.4 L332.9,516.9 L335.4,518.4 L337.9,519.8 L340.3,521.3 L342.7,522.6 L344.9,523.9 L347.1,525.2 L349.2,526.4 L351.3,527.6 L353.3,528.7 L355.3,529.9 L357.3,531.0 L359.3,532.1 L361.2,533.1 L363.2,534.1 L365.2,535.1 L367.2,536.0 L369.2,536.8 L371.1,537.6 L372.9,538.3 L374.7,538.9 L376.4,539.5 L378.2,540.1 L379.9,540.6 L381.7,541.0 L383.5,541.4 L385.4,541.8 L387.3,542.2 L389.3,542.5 L391.5,542.8 L393.9,543.1 L396.6,543.4 L399.5,543.7 L402.4,543.9 L405.4,544.1 L408.4,544.2 L411.3,544.4 L414.0,544.5 L416.6,544.6 L418.8,544.7 L420.6,544.8 L422.1,544.9" stroke="#c4c4c4" stroke-width="1.3" stroke-dasharray="2.4 1.9" fill="none"/><path d="M201.0,430.3 L203.2,431.2 L206.0,432.5 L209.3,433.9 L212.9,435.5 L216.9,437.3 L221.1,439.2 L225.5,441.2 L230.0,443.2 L234.5,445.3 L239.0,447.3 L243.2,449.4 L247.3,451.4 L251.3,453.4 L255.3,455.5 L259.4,457.6 L263.5,459.8 L267.6,462.0 L271.6,464.3 L275.6,466.5 L279.5,468.6 L283.3,470.8 L286.9,472.8 L290.4,474.7 L293.6,476.5 L296.7,478.3 L299.5,479.9 L302.1,481.4 L304.6,482.9 L307.0,484.3 L309.3,485.6 L311.5,486.9 L313.7,488.2 L315.9,489.6 L318.1,490.9 L320.4,492.2 L322.8,493.6 L325.2,495.1 L327.8,496.6 L330.3,498.1 L332.9,499.6 L335.4,501.2 L337.9,502.7 L340.5,504.2 L342.9,505.7 L345.4,507.1 L347.7,508.5 L350.0,509.8 L352.3,511.1 L354.4,512.3 L356.6,513.5 L358.6,514.7 L360.6,515.9 L362.6,517.0 L364.5,518.0 L366.3,519.0 L368.1,520.0 L369.8,520.9 L371.5,521.7 L373.2,522.5 L374.8,523.2 L376.5,523.8 L378.0,524.4 L379.5,525.0 L381.0,525.4 L382.4,525.9 L383.7,526.3 L385.2,526.6 L386.6,527.0 L388.2,527.3 L389.9,527.6 L391.6,527.9 L393.5,528.2 L395.6,528.4 L398.0,528.7 L400.6,528.9 L403.4,529.1 L406.3,529.3 L409.2,529.5 L412.0,529.6 L414.7,529.7 L417.2,529.8 L419.5,529.9 L421.4,530.0 L422.9,530.1" stroke="#c4c4c4" stroke-width="1.3" stroke-dasharray="2.4 1.9" fill="none"/>
<path d="M617.4,315.6 L618.6,315.7 L620.0,315.8 L621.6,316.0 L623.4,316.1 L625.4,316.3 L627.5,316.5 L629.6,316.7 L631.8,316.9 L633.9,317.2 L636.0,317.5 L638.1,317.9 L639.9,318.2 L641.8,318.7 L643.7,319.3 L645.6,319.9 L647.5,320.6 L649.5,321.3 L651.5,322.0 L653.4,322.8 L655.4,323.6 L657.4,324.3 L659.3,325.1 L661.3,325.8 L663.2,326.6 L665.0,327.4 L666.7,328.2 L668.3,328.9 L669.9,329.6 L671.5,330.4 L673.0,331.1 L674.5,331.8 L676.1,332.6 L677.7,333.5 L679.3,334.3 L681.0,335.3 L682.8,336.3 L684.7,337.4 L686.7,338.6 L688.8,339.9 L690.9,341.2 L693.1,342.6 L695.3,344.0 L697.6,345.5 L700.0,347.0 L702.3,348.5 L704.7,350.0 L707.1,351.5 L709.5,352.9 L712.0,354.3 L714.4,355.6 L716.8,356.9 L719.2,358.2 L721.7,359.5 L724.1,360.8 L726.5,362.1 L729.0,363.4 L731.4,364.7 L733.9,366.0 L736.3,367.4 L738.8,368.7 L741.3,370.1 L743.9,371.4 L746.5,372.8 L749.2,374.3 L751.9,375.8 L754.7,377.3 L757.5,378.8 L760.3,380.3 L763.2,381.9 L766.1,383.4 L769.0,384.9 L772.0,386.3 L775.0,387.8 L778.1,389.2 L781.3,390.7 L784.6,392.1 L787.8,393.5 L791.0,394.9 L794.1,396.3 L797.1,397.6 L800.0,398.8 L802.7,400.0 L805.1,401.0 L807.3,402.0 L809.3,402.9 L811.1,403.7 L812.9,404.5 L814.5,405.3 L815.9,406.0 L817.2,406.6 L818.5,407.2 L819.6,407.7 L820.6,408.2 L821.5,408.6 L822.3,409.0 L823.1,409.4 L832.9,388.6 L832.2,388.3 L831.5,387.9 L830.6,387.5 L829.5,387.0 L828.4,386.4 L827.1,385.8 L825.7,385.2 L824.2,384.5 L822.6,383.7 L820.8,382.9 L818.8,382.0 L816.7,381.0 L814.4,380.0 L811.8,378.9 L809.1,377.7 L806.2,376.4 L803.2,375.1 L800.1,373.8 L797.0,372.5 L793.9,371.1 L790.8,369.7 L787.7,368.3 L784.8,367.0 L782.0,365.7 L779.3,364.3 L776.6,362.9 L773.9,361.5 L771.2,360.1 L768.4,358.6 L765.7,357.1 L763.0,355.6 L760.2,354.1 L757.5,352.6 L754.7,351.1 L752.0,349.7 L749.2,348.3 L746.5,347.0 L743.8,345.8 L741.1,344.7 L738.4,343.5 L735.8,342.4 L733.3,341.4 L730.7,340.3 L728.2,339.2 L725.8,338.2 L723.3,337.2 L720.9,336.1 L718.5,335.1 L716.0,334.1 L713.6,333.0 L711.1,332.0 L708.6,330.9 L706.0,329.8 L703.5,328.7 L701.0,327.6 L698.6,326.5 L696.2,325.5 L693.8,324.5 L691.4,323.6 L689.2,322.7 L687.0,321.9 L684.9,321.2 L683.0,320.6 L681.1,320.0 L679.3,319.5 L677.5,319.0 L675.8,318.5 L674.0,318.0 L672.3,317.6 L670.5,317.1 L668.7,316.7 L666.8,316.2 L664.9,315.6 L663.0,315.0 L661.0,314.3 L658.9,313.6 L656.9,313.0 L654.8,312.3 L652.7,311.7 L650.5,311.1 L648.4,310.5 L646.3,309.9 L644.2,309.4 L642.1,309.0 L639.9,308.5 L637.6,308.1 L635.3,307.7 L633.0,307.3 L630.8,307.0 L628.5,306.7 L626.4,306.5 L624.4,306.3 L622.6,306.1 L621.0,305.9 L619.6,305.8 L618.6,305.6 Z" fill="#2b2b2b"/><path d="M617.7,313.0 L618.9,313.1 L620.3,313.2 L621.9,313.4 L623.7,313.5 L625.7,313.7 L627.8,313.9 L629.9,314.1 L632.1,314.4 L634.3,314.6 L636.5,315.0 L638.6,315.3 L640.5,315.7 L642.4,316.2 L644.4,316.8 L646.3,317.4 L648.3,318.1 L650.3,318.8 L652.3,319.6 L654.3,320.3 L656.3,321.1 L658.3,321.9 L660.2,322.6 L662.1,323.4 L664.0,324.1 L665.8,324.9 L667.5,325.7 L669.2,326.5 L670.8,327.2 L672.3,327.9 L673.9,328.7 L675.5,329.4 L677.0,330.2 L678.7,331.0 L680.3,331.9 L682.1,332.9 L683.9,333.9 L685.9,335.1 L687.9,336.3 L690.0,337.5 L692.1,338.9 L694.3,340.3 L696.6,341.7 L698.9,343.2 L701.2,344.7 L703.5,346.2 L705.9,347.7 L708.3,349.2 L710.7,350.6 L713.1,351.9 L715.5,353.3 L717.9,354.6 L720.4,355.8 L722.8,357.1 L725.2,358.4 L727.6,359.7 L730.1,361.0 L732.5,362.3 L735.0,363.7 L737.5,365.0 L740.0,366.4 L742.5,367.8 L745.1,369.1 L747.8,370.5 L750.4,372.0 L753.2,373.5 L755.9,375.0 L758.7,376.5 L761.5,378.0 L764.4,379.6 L767.3,381.1 L770.2,382.6 L773.1,384.0 L776.1,385.4 L779.2,386.9 L782.4,388.3 L785.6,389.8 L788.8,391.2 L792.0,392.5 L795.1,393.9 L798.2,395.2 L801.0,396.4 L803.7,397.6 L806.2,398.6 L808.4,399.6 L810.4,400.5 L812.2,401.4 L814.0,402.2 L815.6,402.9 L817.0,403.6 L818.4,404.3 L819.6,404.8 L820.7,405.4 L821.7,405.9 L822.6,406.3 L823.5,406.7 L824.2,407.0" stroke="#c4c4c4" stroke-width="1.3" stroke-dasharray="2.4 1.9" fill="none"/><path d="M618.3,308.2 L619.4,308.4 L620.7,308.5 L622.3,308.7 L624.2,308.9 L626.1,309.1 L628.2,309.3 L630.4,309.6 L632.7,309.9 L635.0,310.2 L637.2,310.6 L639.4,311.0 L641.5,311.5 L643.5,311.9 L645.6,312.4 L647.7,313.0 L649.8,313.5 L651.9,314.2 L653.9,314.8 L656.0,315.4 L658.1,316.1 L660.1,316.8 L662.1,317.4 L664.1,318.0 L666.0,318.7 L667.8,319.1 L669.7,319.6 L671.4,320.0 L673.2,320.5 L674.9,320.9 L676.6,321.4 L678.4,321.9 L680.1,322.4 L682.0,323.0 L683.9,323.6 L685.9,324.3 L688.1,325.1 L690.3,325.9 L692.6,326.8 L695.0,327.8 L697.4,328.8 L699.8,329.9 L702.3,331.0 L704.8,332.1 L707.3,333.2 L709.9,334.3 L712.4,335.3 L714.8,336.4 L717.3,337.4 L719.7,338.4 L722.2,339.5 L724.6,340.6 L727.1,341.6 L729.6,342.6 L732.2,343.7 L734.7,344.8 L737.3,345.9 L739.9,347.0 L742.6,348.2 L745.3,349.3 L748.0,350.6 L750.8,352.0 L753.5,353.4 L756.2,354.9 L759.0,356.4 L761.7,357.9 L764.5,359.4 L767.2,360.9 L770.0,362.4 L772.7,363.8 L775.4,365.3 L778.2,366.6 L780.9,368.0 L783.7,369.3 L786.6,370.7 L789.7,372.1 L792.8,373.5 L796.0,374.8 L799.1,376.2 L802.2,377.5 L805.2,378.8 L808.1,380.1 L810.8,381.2 L813.3,382.4 L815.6,383.4 L817.7,384.3 L819.7,385.2 L821.5,386.0 L823.1,386.8 L824.6,387.5 L826.0,388.2 L827.3,388.8 L828.4,389.3 L829.4,389.8 L830.3,390.3 L831.1,390.6 L831.8,391.0" stroke="#c4c4c4" stroke-width="1.3" stroke-dasharray="2.4 1.9" fill="none"/>
<path d="M632.1,556.0 L633.7,555.5 L635.7,555.0 L638.2,554.5 L641.0,553.8 L644.1,553.0 L647.4,552.2 L650.9,551.3 L654.4,550.4 L657.9,549.3 L661.4,548.2 L664.7,547.0 L667.9,545.8 L670.9,544.4 L673.8,543.0 L676.5,541.5 L679.2,540.0 L681.8,538.5 L684.3,536.9 L686.7,535.3 L689.1,533.7 L691.5,532.1 L693.8,530.6 L696.1,529.0 L698.5,527.5 L701.0,525.9 L703.5,524.3 L706.0,522.6 L708.5,520.9 L711.0,519.2 L713.5,517.5 L716.0,515.8 L718.5,514.1 L721.0,512.4 L723.4,510.7 L725.9,509.1 L728.3,507.4 L730.7,505.7 L733.2,504.0 L735.6,502.3 L738.1,500.6 L740.5,498.8 L742.9,497.1 L745.3,495.5 L747.6,493.8 L750.0,492.2 L752.3,490.6 L754.5,489.0 L756.8,487.5 L759.0,486.0 L761.2,484.5 L763.4,483.1 L765.6,481.6 L767.8,480.2 L769.9,478.8 L772.1,477.4 L774.2,476.1 L776.4,474.7 L778.5,473.3 L780.6,472.0 L782.6,470.6 L784.7,469.3 L786.7,468.0 L788.6,466.7 L790.5,465.5 L792.4,464.2 L794.2,463.0 L796.0,461.8 L797.9,460.6 L799.7,459.4 L801.6,458.2 L803.5,457.0 L805.4,455.8 L807.5,454.6 L809.7,453.3 L812.0,452.0 L814.3,450.6 L816.7,449.2 L819.1,447.8 L821.4,446.5 L823.7,445.2 L825.8,444.1 L827.8,443.0 L829.6,442.0 L831.1,441.1 L832.3,440.4 L833.4,439.9 L834.3,439.4 L835.0,439.1 L835.6,438.8 L836.0,438.6 L836.4,438.4 L836.8,438.2 L837.1,438.1 L837.6,437.9 L838.1,437.7 L838.5,437.5 L829.5,418.5 L829.2,418.6 L829.1,418.7 L828.8,418.8 L828.4,419.0 L827.9,419.3 L827.2,419.6 L826.5,419.9 L825.6,420.4 L824.6,420.8 L823.6,421.4 L822.3,422.1 L820.9,422.9 L819.4,423.8 L817.6,424.8 L815.6,425.9 L813.4,427.1 L811.1,428.4 L808.8,429.8 L806.3,431.2 L803.9,432.6 L801.5,434.0 L799.1,435.4 L796.8,436.8 L794.6,438.2 L792.5,439.4 L790.5,440.7 L788.5,442.0 L786.6,443.3 L784.7,444.5 L782.8,445.8 L780.9,447.0 L779.0,448.3 L777.2,449.5 L775.3,450.8 L773.3,452.1 L771.4,453.4 L769.3,454.7 L767.3,456.0 L765.2,457.4 L763.1,458.8 L760.9,460.1 L758.8,461.6 L756.6,463.0 L754.3,464.4 L752.1,465.9 L749.8,467.4 L747.5,469.0 L745.2,470.5 L742.9,472.1 L740.6,473.8 L738.2,475.4 L735.8,477.1 L733.4,478.8 L731.1,480.5 L728.7,482.2 L726.3,483.9 L723.9,485.6 L721.5,487.3 L719.1,489.0 L716.7,490.6 L714.3,492.3 L711.8,494.0 L709.4,495.7 L706.9,497.4 L704.5,499.1 L702.0,500.8 L699.6,502.4 L697.2,504.1 L694.7,505.7 L692.3,507.4 L689.9,508.9 L687.5,510.5 L685.0,512.1 L682.6,513.7 L680.2,515.3 L677.9,516.9 L675.6,518.4 L673.4,519.9 L671.1,521.3 L668.9,522.6 L666.7,523.9 L664.5,525.1 L662.3,526.2 L660.1,527.2 L657.7,528.2 L655.0,529.2 L652.0,530.1 L648.9,531.0 L645.7,531.9 L642.5,532.8 L639.3,533.6 L636.3,534.3 L633.5,535.0 L630.9,535.6 L628.7,536.2 L626.9,536.6 Z" fill="#2b2b2b"/><path d="M631.4,553.5 L633.0,553.0 L635.1,552.5 L637.6,551.9 L640.4,551.3 L643.5,550.5 L646.8,549.7 L650.2,548.8 L653.7,547.9 L657.1,546.8 L660.5,545.8 L663.8,544.6 L666.9,543.4 L669.8,542.1 L672.6,540.7 L675.3,539.3 L677.9,537.8 L680.4,536.2 L682.9,534.7 L685.3,533.1 L687.7,531.5 L690.0,530.0 L692.4,528.4 L694.7,526.9 L697.1,525.3 L699.6,523.7 L702.0,522.1 L704.5,520.4 L707.1,518.8 L709.6,517.1 L712.0,515.4 L714.5,513.7 L717.0,512.0 L719.5,510.3 L721.9,508.6 L724.4,506.9 L726.8,505.2 L729.3,503.6 L731.7,501.9 L734.1,500.1 L736.6,498.4 L739.0,496.7 L741.4,495.0 L743.8,493.3 L746.1,491.7 L748.5,490.0 L750.8,488.4 L753.0,486.9 L755.3,485.3 L757.5,483.8 L759.8,482.3 L762.0,480.9 L764.2,479.5 L766.3,478.0 L768.5,476.6 L770.7,475.2 L772.8,473.9 L774.9,472.5 L777.1,471.1 L779.1,469.8 L781.2,468.5 L783.3,467.1 L785.2,465.8 L787.2,464.5 L789.1,463.3 L790.9,462.1 L792.8,460.8 L794.6,459.6 L796.5,458.4 L798.3,457.2 L800.2,456.0 L802.1,454.8 L804.1,453.6 L806.1,452.4 L808.3,451.1 L810.7,449.7 L813.0,448.3 L815.4,447.0 L817.8,445.6 L820.2,444.3 L822.4,443.0 L824.5,441.8 L826.5,440.7 L828.3,439.7 L829.8,438.8 L831.1,438.1 L832.2,437.6 L833.1,437.1 L833.8,436.7 L834.4,436.4 L834.9,436.2 L835.4,436.0 L835.7,435.9 L836.1,435.7 L836.5,435.5 L837.0,435.3 L837.4,435.1" stroke="#c4c4c4" stroke-width="1.3" stroke-dasharray="2.4 1.9" fill="none"/><path d="M627.6,539.1 L629.3,538.7 L631.6,538.1 L634.1,537.5 L636.9,536.8 L639.9,536.1 L643.1,535.3 L646.3,534.4 L649.6,533.5 L652.8,532.6 L655.8,531.6 L658.6,530.6 L661.1,529.6 L663.4,528.6 L665.7,527.4 L668.0,526.2 L670.3,524.9 L672.5,523.5 L674.8,522.1 L677.0,520.6 L679.3,519.1 L681.7,517.5 L684.0,515.9 L686.5,514.3 L688.9,512.7 L691.3,511.1 L693.7,509.5 L696.2,507.9 L698.6,506.3 L701.1,504.6 L703.5,502.9 L706.0,501.2 L708.4,499.5 L710.9,497.8 L713.3,496.1 L715.8,494.4 L718.2,492.8 L720.6,491.1 L723.0,489.4 L725.4,487.7 L727.8,486.0 L730.2,484.3 L732.6,482.6 L734.9,480.9 L737.3,479.2 L739.7,477.5 L742.0,475.9 L744.4,474.3 L746.7,472.7 L749.0,471.1 L751.3,469.6 L753.5,468.1 L755.8,466.6 L758.0,465.2 L760.2,463.7 L762.3,462.3 L764.5,460.9 L766.6,459.6 L768.7,458.2 L770.7,456.9 L772.8,455.5 L774.8,454.2 L776.7,452.9 L778.6,451.7 L780.5,450.4 L782.4,449.2 L784.2,447.9 L786.1,446.7 L788.0,445.4 L789.9,444.2 L791.9,442.9 L793.9,441.7 L795.9,440.4 L798.1,439.0 L800.4,437.7 L802.8,436.3 L805.2,434.9 L807.6,433.4 L810.1,432.0 L812.4,430.7 L814.7,429.4 L816.9,428.2 L818.8,427.0 L820.6,426.0 L822.2,425.2 L823.6,424.4 L824.8,423.7 L825.8,423.2 L826.8,422.7 L827.6,422.3 L828.3,421.9 L828.9,421.6 L829.4,421.4 L829.9,421.2 L830.2,421.1 L830.3,421.0 L830.6,420.9" stroke="#c4c4c4" stroke-width="1.3" stroke-dasharray="2.4 1.9" fill="none"/>
<g transform="translate(797,385) rotate(27)"><rect x="-11.0" y="-14.5" width="22" height="29" rx="2" fill="#121212"/><rect x="-9.5" y="-13.5" width="2.2" height="27" fill="#3c3c3c"/><rect x="7.3" y="-13.5" width="2.2" height="27" fill="#3c3c3c"/></g>
<g transform="translate(800,449) rotate(-33)"><rect x="-11.0" y="-14.0" width="22" height="28" rx="2" fill="#121212"/><rect x="-9.5" y="-13.0" width="2.2" height="26" fill="#3c3c3c"/><rect x="7.3" y="-13.0" width="2.2" height="26" fill="#3c3c3c"/></g>
<g transform="translate(233,451) rotate(27)"><rect x="-11.0" y="-14.5" width="22" height="29" rx="2" fill="#121212"/><rect x="-9.5" y="-13.5" width="2.2" height="27" fill="#3c3c3c"/><rect x="7.3" y="-13.5" width="2.2" height="27" fill="#3c3c3c"/></g>
<g fill="#161616"><path d="M149.5,397.5 Q152,394 158,394.3 Q163,395 165,397 L174,396.5 L174,399.5 L165,400 Q162,401.5 157,401.3 Q150,401 149.5,397.5 Z"/><rect x="146.8" y="408" width="27.5" height="6" rx="1.5"/><path d="M146.8,424.5 Q148,421 154,420.8 Q160,421 163,423 L174,422.5 L174,426 L163,426.5 Q160,428.6 154,428.6 Q148,428.3 146.8,424.5 Z"/><rect x="173" y="395" width="22" height="35.5" rx="1.5"/><path d="M190,397 L212,395 L214,430 L190,431 Z" fill="#1c1c1c"/></g><path d="M181,403.7 L212,402.5 M181,421.3 L212,421" stroke="#bdbdbd" stroke-width="1.3" stroke-dasharray="2.4 1.9" fill="none"/><path d="M198,387 Q200,384.5 205,386 L208,392 L200,395 Z" fill="none" stroke="#333" stroke-width="2"/>
<g fill="#161616"><path d="M812.5,393 L834.4,399.4 L837.5,433.75 L823.4,427.5 L815.6,415 Z"/><rect x="834" y="403" width="52" height="26.5" fill="#1c1c1c"/><path d="M884,399.5 L891,397 L891,394 L903,394 Q906.5,394.5 906.3,398 L906.3,427 Q906,430.5 903,430.5 L891,430.5 L891,427 L884,425 Z"/></g><path d="M837,408.7 L860,408.7 M837,425.8 L860,425.8 M870,402.5 L884,402.5 M870,420.5 L884,420.5" stroke="#bdbdbd" stroke-width="1.3" stroke-dasharray="2.4 1.9" fill="none"/><path d="M864,399 Q859,402 859.5,414 Q860,428 866,430 Q871,428 871,414 Q870.5,400 864,399 Z" fill="none" stroke="#5a5a5a" stroke-width="2.2"/>
<defs><mask id="outj" maskUnits="userSpaceOnUse" x="0" y="0" width="1024" height="1024"><rect width="1024" height="1024" fill="#fff"/><path d="M246.3,306.3 C249.8,306.6 261.0,307.9 267.0,307.8 C273.0,307.7 279.9,305.9 282.5,305.5 C282.8,302.8 283.2,293.8 284.5,289.0 C285.8,284.2 288.2,279.6 290.5,276.5 C292.8,273.4 295.6,271.9 298.5,270.5 C301.4,269.1 304.8,268.7 308.0,268.3 C311.2,267.9 314.3,268.2 318.0,268.2 C321.7,268.2 323.0,268.3 330.0,268.4 C337.0,268.5 349.3,268.7 360.0,268.9 C370.7,269.1 379.0,269.3 394.0,269.5 C409.0,269.7 431.3,270.1 450.0,270.3 C468.7,270.6 486.0,271.1 506.0,271.0 C526.0,270.9 549.7,270.4 570.0,270.0 C590.3,269.6 609.7,269.1 628.0,268.8 C646.3,268.5 664.7,268.5 680.0,268.4 C695.3,268.3 710.8,268.3 720.0,268.3 C729.2,268.3 730.8,268.2 735.0,268.3 C739.2,268.4 742.0,268.4 745.0,268.7 C748.0,269.0 750.3,269.0 753.0,270.0 C755.7,271.0 758.7,272.6 761.0,274.5 C763.3,276.4 765.5,278.4 767.0,281.5 C768.5,284.6 769.6,288.6 770.3,293.0 C771.0,297.4 771.1,305.2 771.3,307.7 L780.5,310.5 L786.4,311.2 C788.1,315.2 793.2,327.2 796.5,335.3 C799.8,343.4 803.0,351.4 806.3,359.5 C809.6,367.6 812.9,375.6 816.2,383.6 C819.5,391.7 822.7,399.8 825.9,407.8 C829.1,415.9 832.4,423.8 835.5,431.9 C838.6,439.9 841.8,448.1 844.8,456.1 C847.8,464.2 850.7,472.1 853.6,480.2 C856.5,488.2 859.3,496.3 862.0,504.4 C864.7,512.4 867.3,520.5 869.8,528.5 C872.3,536.5 874.6,544.7 876.9,552.7 C879.2,560.8 881.4,568.8 883.4,576.8 C885.4,584.8 887.3,593.0 889.1,601.0 C890.9,609.0 892.5,617.1 894.0,625.1 C895.5,633.1 896.8,641.2 898.0,649.3 C899.2,657.3 900.3,665.3 901.2,673.4 C902.1,681.5 903.0,689.5 903.6,697.6 C904.2,705.7 904.7,713.7 905.0,721.7 C905.3,729.8 905.5,737.9 905.6,745.9 C905.7,753.9 905.4,766.0 905.4,770.0 L901.0,771.5 L898.5,779.0 L897.5,787.0 C895.6,786.9 890.4,786.6 886.2,786.2 C882.0,785.8 877.3,785.2 872.3,784.4 C867.3,783.6 861.6,782.6 856.2,781.5 C850.8,780.4 845.1,779.0 839.6,777.6 C834.1,776.2 828.5,774.6 823.0,772.9 C817.5,771.1 811.9,769.3 806.4,767.3 C800.9,765.3 795.3,763.1 789.8,760.7 C784.3,758.2 778.7,755.7 773.3,752.8 C768.0,750.0 762.6,746.9 757.7,743.5 C752.7,740.2 748.1,736.5 743.7,732.6 C739.2,728.8 735.2,724.6 730.9,720.4 C726.6,716.1 722.4,711.6 718.0,707.0 C713.6,702.3 709.0,697.4 704.5,692.3 C700.0,687.3 695.4,681.9 690.9,676.7 C686.3,671.5 681.8,666.2 677.1,661.2 C672.5,656.3 667.8,651.4 663.0,647.0 C658.3,642.6 653.5,638.4 648.7,634.9 C643.9,631.4 639.3,628.5 634.2,626.0 C629.2,623.5 624.2,621.7 618.1,619.8 C612.1,617.9 605.5,616.3 598.2,614.5 C591.0,612.7 582.8,610.8 574.8,609.1 C566.8,607.4 558.2,605.6 550.0,604.3 C541.8,603.0 533.4,602.0 525.3,601.5 C517.2,601.0 509.4,600.9 501.6,601.2 C493.7,601.6 486.3,602.4 478.4,603.8 C470.6,605.2 462.6,607.1 454.7,609.5 C446.7,612.0 438.3,615.3 430.8,618.7 C423.3,622.2 415.9,626.3 409.7,630.2 C403.5,634.2 398.3,638.2 393.4,642.4 C388.5,646.7 384.5,650.9 380.2,655.6 C376.0,660.3 372.0,665.5 367.8,670.7 C363.7,675.9 359.5,681.7 355.3,687.0 C351.1,692.3 347.1,697.4 342.6,702.6 C338.0,707.7 333.6,712.5 328.0,717.7 C322.4,722.9 316.0,728.4 309.1,733.8 C302.1,739.2 294.1,745.2 286.3,750.2 C278.6,755.2 270.5,759.9 262.6,763.8 C254.7,767.6 246.9,770.7 239.0,773.3 C231.0,775.9 222.9,777.8 214.8,779.5 C206.7,781.1 198.3,782.2 190.6,783.3 C182.8,784.3 175.3,784.9 168.3,785.6 C161.3,786.3 152.1,787.2 148.8,787.5 L146.0,786.0 L145.5,770.0 L145.5,757.0 L135.3,756.0 L120.4,757.8 C120.1,757.2 118.2,757.9 118.3,754.0 C118.4,750.1 120.0,741.0 120.9,734.5 C121.8,728.0 122.6,721.6 123.5,715.1 C124.4,708.6 125.4,702.1 126.4,695.6 C127.4,689.1 128.4,682.6 129.5,676.1 C130.6,669.6 131.7,663.2 132.9,656.7 C134.1,650.2 135.4,643.7 136.7,637.2 C138.0,630.7 139.3,624.2 140.7,617.7 C142.1,611.2 143.6,604.8 145.2,598.3 C146.8,591.8 148.4,585.3 150.0,578.8 C151.6,572.3 153.3,565.8 155.0,559.3 C156.7,552.8 158.6,546.4 160.4,539.9 C162.2,533.4 164.2,526.9 166.1,520.4 C168.0,513.9 170.0,507.5 172.0,501.0 C174.0,494.5 176.0,488.0 178.1,481.5 C180.2,475.0 182.3,468.5 184.5,462.0 C186.7,455.5 188.8,449.1 191.0,442.6 C193.2,436.1 195.5,429.6 197.8,423.1 C200.1,416.6 202.4,410.1 204.8,403.6 C207.2,397.1 209.6,390.7 212.1,384.2 C214.6,377.7 217.2,371.2 219.8,364.7 C222.4,358.2 225.1,351.7 227.9,345.2 C230.7,338.7 233.4,332.3 236.5,325.8 C239.6,319.3 244.7,309.6 246.3,306.3 Z" fill="#000"/></mask></defs>
<g mask="url(#outj)"><g stroke="#f6f6f6" stroke-width="2.2" stroke-linejoin="round"><path d="M226.2,206.4 L226.6,207.0 L227.1,207.6 L227.8,208.4 L228.5,209.3 L229.2,210.3 L230.0,211.3 L230.8,212.4 L231.7,213.5 L232.5,214.7 L233.3,215.8 L234.1,217.0 L234.9,218.2 L235.8,219.5 L236.6,220.7 L237.5,222.1 L238.4,223.5 L239.3,225.0 L240.3,226.6 L241.4,228.3 L242.6,230.2 L243.8,232.2 L245.2,234.4 L246.6,236.7 L248.1,239.1 L249.6,241.6 L251.1,244.1 L252.7,246.7 L254.2,249.3 L255.7,251.8 L257.2,254.2 L258.6,256.6 L260.0,259.0 L261.4,261.4 L262.8,263.8 L264.1,266.2 L265.5,268.6 L266.9,271.0 L268.2,273.4 L269.5,275.8 L270.9,278.2 L272.2,280.6 L273.5,283.0 L274.7,285.4 L276.0,287.8 L277.3,290.2 L278.5,292.6 L279.8,295.0 L281.0,297.4 L282.2,299.8 L283.4,302.2 L284.7,304.6 L285.9,307.0 L287.1,309.4 L288.2,311.8 L289.4,314.2 L290.6,316.6 L291.7,319.0 L292.9,321.4 L294.0,323.8 L295.1,326.2 L296.3,328.7 L297.5,331.3 L298.7,334.1 L300.0,336.9 L301.2,339.7 L302.3,342.3 L303.4,344.7 L304.3,346.9 L305.1,348.8 L305.8,350.2 L311.2,347.8 L310.6,346.4 L309.8,344.5 L308.9,342.3 L307.8,339.9 L306.7,337.3 L305.5,334.5 L304.3,331.7 L303.0,328.9 L301.8,326.2 L300.7,323.6 L299.5,321.2 L298.4,318.8 L297.3,316.4 L296.1,313.9 L294.9,311.5 L293.8,309.1 L292.6,306.7 L291.4,304.2 L290.2,301.8 L289.0,299.4 L287.7,297.0 L286.5,294.6 L285.3,292.2 L284.0,289.7 L282.8,287.3 L281.5,284.9 L280.2,282.5 L279.0,280.0 L277.7,277.6 L276.3,275.2 L275.0,272.8 L273.7,270.4 L272.3,267.9 L271.0,265.5 L269.6,263.1 L268.2,260.7 L266.8,258.3 L265.5,255.8 L264.0,253.4 L262.6,251.0 L261.2,248.5 L259.7,246.0 L258.1,243.4 L256.6,240.8 L255.1,238.3 L253.5,235.8 L252.0,233.4 L250.6,231.0 L249.3,228.8 L248.0,226.8 L246.9,224.9 L245.8,223.2 L244.8,221.6 L243.8,220.0 L242.9,218.6 L242.0,217.2 L241.2,215.9 L240.3,214.6 L239.5,213.4 L238.7,212.2 L237.8,210.9 L237.0,209.7 L236.1,208.5 L235.2,207.4 L234.4,206.3 L233.7,205.3 L233.0,204.4 L232.3,203.6 L231.8,202.9 L231.4,202.4 Z" fill="#f6f6f6"/><circle cx="228.8" cy="204.4" r="3.30" fill="#f6f6f6"/><circle cx="308.5" cy="349.0" r="3.00" fill="#f6f6f6"/><path d="M275.5,340.3 L276.1,340.4 L276.8,340.5 L277.6,340.7 L278.5,340.9 L279.5,341.1 L280.5,341.3 L281.5,341.5 L282.5,341.7 L283.4,342.0 L284.3,342.3 L285.1,342.5 L285.9,342.9 L286.8,343.2 L287.6,343.6 L288.5,344.0 L289.4,344.4 L290.3,344.8 L291.2,345.2 L292.1,345.7 L293.1,346.1 L294.0,346.5 L295.0,346.9 L296.0,347.3 L297.1,347.7 L298.1,348.1 L299.1,348.5 L300.0,348.9 L301.0,349.2 L301.8,349.6 L302.6,349.9 L303.3,350.1 L304.1,350.4 L304.7,350.7 L305.4,350.9 L306.0,351.1 L306.5,351.3 L307.0,351.5 L307.5,351.7 L307.8,351.8 L308.1,351.9 L309.9,347.1 L309.6,346.9 L309.2,346.8 L308.7,346.7 L308.3,346.5 L307.7,346.3 L307.1,346.1 L306.5,345.9 L305.8,345.7 L305.1,345.4 L304.4,345.1 L303.6,344.8 L302.7,344.5 L301.8,344.2 L300.9,343.8 L299.9,343.4 L298.9,343.1 L297.8,342.7 L296.8,342.3 L295.9,341.9 L294.9,341.5 L294.0,341.2 L293.2,340.8 L292.3,340.4 L291.4,340.0 L290.5,339.6 L289.5,339.2 L288.6,338.8 L287.7,338.4 L286.7,338.1 L285.7,337.7 L284.7,337.4 L283.6,337.2 L282.5,336.9 L281.5,336.7 L280.4,336.5 L279.4,336.3 L278.5,336.1 L277.7,336.0 L277.0,335.8 L276.5,335.7 Z" fill="#f6f6f6"/><circle cx="276.0" cy="338.0" r="2.30" fill="#f6f6f6"/><circle cx="309.0" cy="349.5" r="2.60" fill="#f6f6f6"/><path d="M317.5,312.5 L317.2,313.2 L316.9,314.1 L316.5,315.2 L316.0,316.4 L315.5,317.8 L315.0,319.1 L314.5,320.5 L314.1,321.9 L313.6,323.2 L313.2,324.4 L312.8,325.5 L312.4,326.6 L312.0,327.7 L311.6,328.8 L311.2,329.9 L310.8,331.0 L310.4,332.1 L310.0,333.2 L309.7,334.3 L309.3,335.4 L309.0,336.6 L308.6,337.8 L308.3,339.1 L308.0,340.4 L307.7,341.7 L307.4,342.9 L307.1,344.0 L306.8,345.0 L306.6,345.8 L306.5,346.4 L311.5,347.6 L311.7,346.9 L311.8,346.0 L312.0,345.0 L312.2,343.9 L312.4,342.7 L312.7,341.5 L312.9,340.2 L313.2,338.9 L313.4,337.7 L313.7,336.6 L314.0,335.5 L314.2,334.4 L314.5,333.4 L314.8,332.3 L315.2,331.2 L315.5,330.1 L315.8,329.0 L316.1,327.9 L316.5,326.8 L316.8,325.6 L317.2,324.4 L317.6,323.1 L318.0,321.7 L318.5,320.3 L318.9,318.9 L319.3,317.5 L319.7,316.3 L320.0,315.2 L320.3,314.2 L320.5,313.5 Z" fill="#f6f6f6"/><circle cx="319.0" cy="313.0" r="1.60" fill="#f6f6f6"/><circle cx="309.0" cy="347.0" r="2.60" fill="#f6f6f6"/><path d="M837.2,195.3 L836.2,196.8 L834.9,198.7 L833.4,200.9 L831.6,203.3 L829.8,206.0 L827.9,208.8 L825.9,211.6 L823.9,214.5 L822.0,217.2 L820.2,219.7 L818.4,222.1 L816.6,224.6 L814.8,227.0 L813.0,229.5 L811.2,231.9 L809.4,234.4 L807.5,236.8 L805.7,239.2 L803.8,241.7 L801.9,244.1 L800.0,246.6 L798.0,249.0 L796.1,251.4 L794.1,253.8 L792.1,256.3 L790.1,258.7 L788.1,261.1 L786.1,263.6 L784.0,266.0 L781.9,268.4 L779.9,270.9 L777.8,273.3 L775.6,275.7 L773.5,278.2 L771.4,280.6 L769.2,283.0 L767.0,285.5 L764.8,287.9 L762.6,290.3 L760.4,292.8 L758.1,295.2 L755.9,297.6 L753.6,300.1 L751.3,302.5 L749.0,304.9 L746.6,307.4 L744.3,309.8 L741.9,312.2 L739.5,314.7 L737.1,317.1 L734.7,319.6 L732.2,322.0 L729.8,324.5 L727.3,326.9 L724.8,329.4 L722.3,331.8 L719.8,334.3 L717.3,336.7 L714.7,339.1 L712.1,341.6 L709.4,344.1 L706.5,346.8 L703.4,349.6 L700.2,352.5 L697.1,355.3 L694.2,357.9 L691.4,360.4 L688.9,362.6 L686.8,364.5 L685.2,366.0 L689.8,371.0 L691.4,369.6 L693.5,367.7 L696.0,365.5 L698.7,363.1 L701.7,360.4 L704.8,357.6 L708.0,354.7 L711.1,351.9 L714.1,349.2 L716.9,346.6 L719.5,344.2 L722.1,341.7 L724.6,339.3 L727.2,336.8 L729.7,334.3 L732.2,331.9 L734.7,329.4 L737.2,327.0 L739.7,324.5 L742.1,322.1 L744.5,319.6 L746.9,317.2 L749.3,314.7 L751.7,312.3 L754.1,309.8 L756.4,307.4 L758.7,305.0 L761.1,302.5 L763.3,300.1 L765.6,297.6 L767.9,295.2 L770.1,292.7 L772.3,290.3 L774.6,287.8 L776.7,285.4 L778.9,282.9 L781.1,280.5 L783.2,278.1 L785.3,275.6 L787.5,273.2 L789.6,270.7 L791.6,268.3 L793.7,265.8 L795.7,263.4 L797.8,260.9 L799.8,258.5 L801.8,256.0 L803.8,253.6 L805.7,251.1 L807.7,248.7 L809.6,246.2 L811.5,243.8 L813.4,241.3 L815.3,238.8 L817.2,236.4 L819.0,233.9 L820.8,231.5 L822.6,229.0 L824.4,226.5 L826.2,224.1 L828.1,221.5 L830.0,218.8 L832.0,216.0 L834.0,213.1 L836.0,210.3 L837.9,207.7 L839.6,205.2 L841.1,203.0 L842.4,201.1 L843.4,199.7 Z" fill="#f6f6f6"/><circle cx="840.3" cy="197.5" r="3.80" fill="#f6f6f6"/><circle cx="687.5" cy="368.5" r="3.40" fill="#f6f6f6"/><path d="M681.8,324.7 L681.8,326.0 L682.0,327.7 L682.1,329.8 L682.2,332.1 L682.4,334.6 L682.5,337.1 L682.6,339.8 L682.8,342.4 L682.9,344.8 L683.1,347.2 L683.2,349.4 L683.4,351.9 L683.5,354.4 L683.7,356.9 L683.8,359.3 L683.9,361.6 L684.1,363.8 L684.2,365.7 L684.3,367.4 L684.4,368.6 L690.6,368.4 L690.6,367.1 L690.5,365.4 L690.5,363.5 L690.4,361.3 L690.3,359.0 L690.2,356.6 L690.2,354.0 L690.1,351.6 L690.0,349.1 L689.9,346.8 L689.8,344.5 L689.8,342.0 L689.7,339.5 L689.6,336.8 L689.5,334.2 L689.4,331.8 L689.4,329.5 L689.3,327.4 L689.3,325.7 L689.2,324.3 Z" fill="#f6f6f6"/><circle cx="685.5" cy="324.5" r="3.75" fill="#f6f6f6"/><circle cx="687.5" cy="368.5" r="3.10" fill="#f6f6f6"/><path d="M686.0,372.2 L687.4,372.3 L689.2,372.3 L691.4,372.3 L693.9,372.3 L696.5,372.4 L699.3,372.4 L702.1,372.4 L704.9,372.4 L707.6,372.4 L710.1,372.3 L712.6,372.2 L715.2,372.1 L717.9,372.0 L720.6,371.8 L723.3,371.7 L725.8,371.5 L728.2,371.3 L730.2,371.2 L732.0,371.1 L733.4,371.0 L733.0,365.0 L731.6,365.1 L729.9,365.2 L727.8,365.3 L725.4,365.4 L722.9,365.6 L720.3,365.7 L717.6,365.8 L714.9,365.9 L712.4,366.0 L709.9,366.1 L707.5,366.1 L704.9,366.1 L702.1,366.1 L699.3,366.0 L696.6,366.0 L694.0,365.9 L691.5,365.9 L689.3,365.8 L687.5,365.8 L686.0,365.8 Z" fill="#f6f6f6"/><circle cx="686.0" cy="369.0" r="3.25" fill="#f6f6f6"/><circle cx="733.2" cy="368.0" r="3.00" fill="#f6f6f6"/><path d="M242.2,878.7 L240.1,876.9 L237.5,874.5 L234.3,871.7 L230.8,868.6 L227.0,865.2 L223.0,861.6 L219.1,858.1 L215.2,854.6 L211.5,851.3 L208.1,848.3 L205.0,845.4 L201.8,842.5 L198.6,839.6 L195.5,836.8 L192.5,834.0 L189.5,831.2 L186.6,828.6 L183.9,826.1 L181.3,823.7 L178.8,821.4 L176.5,819.3 L174.4,817.4 L172.4,815.6 L170.5,813.9 L168.8,812.3 L167.1,810.8 L165.5,809.3 L164.1,807.9 L162.7,806.5 L161.3,805.2 L160.1,803.8 L158.9,802.4 L157.7,801.1 L156.7,799.8 L155.7,798.5 L154.8,797.3 L154.0,796.2 L153.3,795.2 L152.6,794.3 L152.1,793.6 L147.9,796.8 L148.4,797.4 L149.0,798.3 L149.8,799.3 L150.6,800.4 L151.5,801.7 L152.5,803.0 L153.6,804.4 L154.8,805.9 L156.1,807.3 L157.5,808.8 L158.9,810.3 L160.4,811.7 L161.9,813.2 L163.5,814.7 L165.2,816.2 L166.9,817.8 L168.8,819.6 L170.8,821.4 L172.9,823.3 L175.2,825.4 L177.6,827.6 L180.2,830.0 L182.9,832.6 L185.8,835.2 L188.8,838.0 L191.8,840.8 L194.9,843.7 L198.1,846.5 L201.3,849.4 L204.5,852.3 L207.8,855.4 L211.5,858.7 L215.4,862.2 L219.3,865.8 L223.3,869.3 L227.1,872.7 L230.6,875.9 L233.7,878.7 L236.4,881.1 L238.4,882.9 Z" fill="#f6f6f6"/><circle cx="240.3" cy="880.8" r="2.80" fill="#f6f6f6"/><circle cx="150.0" cy="795.2" r="2.60" fill="#f6f6f6"/><path d="M148.9,795.2 L149.5,795.3 L150.4,795.3 L151.3,795.3 L152.4,795.4 L153.6,795.4 L154.9,795.5 L156.2,795.5 L157.5,795.6 L158.7,795.6 L160.0,795.6 L161.2,795.6 L162.6,795.6 L164.0,795.7 L165.4,795.8 L166.8,795.9 L168.2,796.0 L169.5,796.1 L170.6,796.2 L171.6,796.3 L172.3,796.4 L172.3,790.6 L171.5,790.7 L170.6,790.8 L169.5,790.9 L168.2,791.0 L166.8,791.1 L165.4,791.2 L164.0,791.3 L162.6,791.4 L161.3,791.4 L160.0,791.4 L158.9,791.3 L157.6,791.3 L156.4,791.2 L155.1,791.1 L153.8,791.1 L152.7,791.0 L151.6,790.9 L150.6,790.9 L149.8,790.8 L149.1,790.8 Z" fill="#f6f6f6"/><circle cx="149.0" cy="793.0" r="2.25" fill="#f6f6f6"/><circle cx="172.3" cy="793.5" r="2.90" fill="#f6f6f6"/><path d="M148.0,795.8 L148.0,796.5 L148.0,797.4 L148.0,798.5 L148.0,799.7 L148.0,801.0 L147.9,802.4 L147.9,803.8 L147.9,805.2 L147.8,806.5 L147.8,807.8 L147.7,809.1 L147.6,810.6 L147.5,812.1 L147.5,813.6 L147.4,815.1 L147.3,816.6 L147.2,817.9 L147.1,819.1 L147.1,820.1 L147.1,820.9 L148.3,821.1 L148.5,820.3 L148.7,819.3 L149.0,818.1 L149.2,816.8 L149.5,815.4 L149.8,813.9 L150.1,812.4 L150.3,810.9 L150.6,809.5 L150.8,808.2 L151.1,806.9 L151.3,805.5 L151.6,804.1 L151.8,802.7 L152.0,801.4 L152.2,800.1 L152.4,798.9 L152.6,797.8 L152.8,796.9 L153.0,796.2 Z" fill="#f6f6f6"/><circle cx="150.5" cy="796.0" r="2.50" fill="#f6f6f6"/><path d="M752.6,867.9 L752.8,866.4 L753.0,864.6 L753.3,862.3 L753.6,859.8 L754.0,857.1 L754.3,854.3 L754.7,851.4 L755.1,848.6 L755.4,845.8 L755.8,843.3 L756.2,840.8 L756.5,838.4 L756.9,835.9 L757.2,833.5 L757.6,831.0 L758.0,828.6 L758.4,826.1 L758.8,823.7 L759.2,821.2 L759.6,818.8 L760.0,816.3 L760.5,813.9 L760.9,811.4 L761.4,808.9 L761.8,806.5 L762.3,804.0 L762.8,801.6 L763.3,799.1 L763.7,796.6 L764.2,794.2 L764.7,791.7 L765.2,789.2 L765.7,786.8 L766.2,784.3 L766.8,781.8 L767.3,779.4 L767.8,776.9 L768.3,774.5 L768.9,772.0 L769.4,769.6 L770.0,767.1 L770.6,764.7 L771.2,762.2 L771.8,759.8 L772.4,757.3 L773.0,754.9 L773.6,752.4 L774.2,750.0 L774.8,747.5 L775.5,745.1 L776.1,742.6 L776.7,740.1 L777.4,737.7 L778.0,735.2 L778.6,732.7 L779.3,730.3 L779.9,727.8 L780.6,725.4 L781.3,722.9 L782.0,720.4 L782.7,718.0 L783.4,715.5 L784.1,713.1 L784.8,710.6 L785.5,708.1 L786.3,705.7 L787.0,703.2 L787.8,700.8 L788.5,698.3 L789.3,695.8 L790.0,693.4 L790.8,690.9 L791.6,688.5 L792.4,686.0 L793.2,683.5 L794.0,681.1 L794.8,678.6 L795.6,676.2 L796.4,673.8 L797.3,671.4 L798.1,668.9 L799.1,666.2 L800.1,663.5 L801.1,660.7 L802.1,658.0 L803.0,655.5 L803.9,653.1 L804.7,651.0 L805.4,649.1 L805.9,647.7 L799.1,645.3 L798.6,646.7 L797.9,648.5 L797.2,650.6 L796.3,653.0 L795.3,655.6 L794.3,658.3 L793.3,661.1 L792.4,663.8 L791.4,666.5 L790.5,669.0 L789.7,671.5 L788.9,673.9 L788.1,676.4 L787.2,678.9 L786.4,681.3 L785.6,683.8 L784.9,686.3 L784.1,688.8 L783.3,691.3 L782.5,693.8 L781.8,696.2 L781.0,698.7 L780.3,701.2 L779.5,703.7 L778.8,706.1 L778.1,708.6 L777.3,711.1 L776.6,713.6 L775.9,716.1 L775.2,718.6 L774.5,721.0 L773.9,723.5 L773.2,726.0 L772.5,728.5 L771.9,731.0 L771.3,733.5 L770.6,735.9 L770.0,738.4 L769.4,740.9 L768.7,743.3 L768.1,745.8 L767.5,748.3 L766.9,750.7 L766.3,753.2 L765.7,755.7 L765.1,758.1 L764.5,760.6 L763.9,763.1 L763.3,765.6 L762.8,768.0 L762.2,770.5 L761.7,773.0 L761.1,775.5 L760.6,778.0 L760.1,780.4 L759.6,782.9 L759.0,785.4 L758.5,787.9 L758.1,790.4 L757.6,792.8 L757.1,795.3 L756.6,797.8 L756.1,800.3 L755.7,802.8 L755.2,805.2 L754.7,807.7 L754.3,810.2 L753.8,812.7 L753.4,815.2 L753.0,817.6 L752.6,820.1 L752.2,822.6 L751.8,825.1 L751.4,827.5 L751.0,830.0 L750.6,832.5 L750.3,834.9 L749.9,837.4 L749.5,839.9 L749.2,842.3 L748.8,844.9 L748.5,847.7 L748.1,850.6 L747.7,853.4 L747.4,856.3 L747.0,859.0 L746.7,861.5 L746.4,863.7 L746.2,865.6 L746.0,867.1 Z" fill="#f6f6f6"/><circle cx="749.3" cy="867.5" r="3.30" fill="#f6f6f6"/><circle cx="802.5" cy="646.5" r="3.60" fill="#f6f6f6"/><path d="M759.3,671.0 L760.3,670.8 L761.5,670.5 L763.0,670.1 L764.6,669.7 L766.4,669.2 L768.2,668.6 L770.1,668.1 L771.9,667.5 L773.7,666.9 L775.4,666.4 L776.9,665.9 L778.6,665.4 L780.2,664.8 L781.8,664.3 L783.4,663.7 L785.0,663.2 L786.5,662.5 L788.0,661.8 L789.4,661.1 L790.8,660.4 L792.1,659.6 L793.4,658.8 L794.5,658.0 L795.7,657.2 L796.8,656.4 L797.8,655.7 L798.7,654.9 L799.6,654.1 L800.5,653.4 L801.3,652.7 L802.0,652.0 L802.8,651.3 L803.5,650.5 L804.1,649.8 L804.6,649.2 L805.1,648.6 L805.5,648.0 L805.8,647.6 L806.1,647.2 L806.3,647.0 L801.1,643.0 L800.9,643.4 L800.5,643.9 L800.2,644.4 L799.9,644.9 L799.5,645.4 L799.1,646.0 L798.7,646.5 L798.2,647.1 L797.7,647.7 L797.1,648.3 L796.4,648.9 L795.7,649.6 L794.9,650.3 L794.0,651.1 L793.1,651.8 L792.2,652.6 L791.2,653.3 L790.2,654.0 L789.1,654.8 L788.0,655.4 L786.8,656.1 L785.5,656.8 L784.2,657.5 L782.8,658.1 L781.3,658.9 L779.8,659.6 L778.3,660.4 L776.8,661.1 L775.3,661.9 L773.8,662.6 L772.3,663.3 L770.6,664.1 L768.9,664.9 L767.1,665.6 L765.4,666.4 L763.7,667.1 L762.1,667.8 L760.8,668.4 L759.6,668.9 L758.7,669.4 Z" fill="#f6f6f6"/><circle cx="803.7" cy="645.0" r="3.25" fill="#f6f6f6"/><path d="M800.6,646.1 L800.8,646.6 L801.0,647.3 L801.3,648.1 L801.6,649.0 L801.9,650.0 L802.3,651.1 L802.8,652.3 L803.3,653.5 L803.8,654.8 L804.5,656.1 L805.1,657.4 L805.9,658.8 L806.7,660.2 L807.6,661.7 L808.5,663.2 L809.4,664.6 L810.3,666.1 L811.1,667.6 L811.9,668.9 L812.7,670.2 L813.4,671.6 L814.2,673.0 L814.9,674.4 L815.7,675.8 L816.4,677.2 L817.1,678.5 L817.8,679.7 L818.3,680.8 L818.8,681.8 L819.2,682.5 L825.2,679.3 L824.8,678.6 L824.3,677.7 L823.8,676.6 L823.1,675.4 L822.4,674.0 L821.6,672.6 L820.9,671.2 L820.1,669.8 L819.3,668.3 L818.5,667.0 L817.7,665.6 L816.9,664.1 L816.0,662.7 L815.1,661.2 L814.2,659.7 L813.3,658.3 L812.4,656.9 L811.7,655.5 L811.0,654.3 L810.3,653.1 L809.8,652.0 L809.3,651.0 L808.9,649.9 L808.5,648.8 L808.1,647.8 L807.8,646.9 L807.5,646.0 L807.2,645.2 L807.0,644.5 L806.8,643.9 Z" fill="#f6f6f6"/><circle cx="803.7" cy="645.0" r="3.25" fill="#f6f6f6"/><circle cx="822.2" cy="680.9" r="3.40" fill="#f6f6f6"/></g></g>
<g><path d="M226.2,206.4 L226.6,207.0 L227.1,207.6 L227.8,208.4 L228.5,209.3 L229.2,210.3 L230.0,211.3 L230.8,212.4 L231.7,213.5 L232.5,214.7 L233.3,215.8 L234.1,217.0 L234.9,218.2 L235.8,219.5 L236.6,220.7 L237.5,222.1 L238.4,223.5 L239.3,225.0 L240.3,226.6 L241.4,228.3 L242.6,230.2 L243.8,232.2 L245.2,234.4 L246.6,236.7 L248.1,239.1 L249.6,241.6 L251.1,244.1 L252.7,246.7 L254.2,249.3 L255.7,251.8 L257.2,254.2 L258.6,256.6 L260.0,259.0 L261.4,261.4 L262.8,263.8 L264.1,266.2 L265.5,268.6 L266.9,271.0 L268.2,273.4 L269.5,275.8 L270.9,278.2 L272.2,280.6 L273.5,283.0 L274.7,285.4 L276.0,287.8 L277.3,290.2 L278.5,292.6 L279.8,295.0 L281.0,297.4 L282.2,299.8 L283.4,302.2 L284.7,304.6 L285.9,307.0 L287.1,309.4 L288.2,311.8 L289.4,314.2 L290.6,316.6 L291.7,319.0 L292.9,321.4 L294.0,323.8 L295.1,326.2 L296.3,328.7 L297.5,331.3 L298.7,334.1 L300.0,336.9 L301.2,339.7 L302.3,342.3 L303.4,344.7 L304.3,346.9 L305.1,348.8 L305.8,350.2 L311.2,347.8 L310.6,346.4 L309.8,344.5 L308.9,342.3 L307.8,339.9 L306.7,337.3 L305.5,334.5 L304.3,331.7 L303.0,328.9 L301.8,326.2 L300.7,323.6 L299.5,321.2 L298.4,318.8 L297.3,316.4 L296.1,313.9 L294.9,311.5 L293.8,309.1 L292.6,306.7 L291.4,304.2 L290.2,301.8 L289.0,299.4 L287.7,297.0 L286.5,294.6 L285.3,292.2 L284.0,289.7 L282.8,287.3 L281.5,284.9 L280.2,282.5 L279.0,280.0 L277.7,277.6 L276.3,275.2 L275.0,272.8 L273.7,270.4 L272.3,267.9 L271.0,265.5 L269.6,263.1 L268.2,260.7 L266.8,258.3 L265.5,255.8 L264.0,253.4 L262.6,251.0 L261.2,248.5 L259.7,246.0 L258.1,243.4 L256.6,240.8 L255.1,238.3 L253.5,235.8 L252.0,233.4 L250.6,231.0 L249.3,228.8 L248.0,226.8 L246.9,224.9 L245.8,223.2 L244.8,221.6 L243.8,220.0 L242.9,218.6 L242.0,217.2 L241.2,215.9 L240.3,214.6 L239.5,213.4 L238.7,212.2 L237.8,210.9 L237.0,209.7 L236.1,208.5 L235.2,207.4 L234.4,206.3 L233.7,205.3 L233.0,204.4 L232.3,203.6 L231.8,202.9 L231.4,202.4 Z" fill="#100d0d"/><circle cx="228.8" cy="204.4" r="3.30" fill="#100d0d"/><circle cx="308.5" cy="349.0" r="3.00" fill="#100d0d"/><path d="M275.5,340.3 L276.1,340.4 L276.8,340.5 L277.6,340.7 L278.5,340.9 L279.5,341.1 L280.5,341.3 L281.5,341.5 L282.5,341.7 L283.4,342.0 L284.3,342.3 L285.1,342.5 L285.9,342.9 L286.8,343.2 L287.6,343.6 L288.5,344.0 L289.4,344.4 L290.3,344.8 L291.2,345.2 L292.1,345.7 L293.1,346.1 L294.0,346.5 L295.0,346.9 L296.0,347.3 L297.1,347.7 L298.1,348.1 L299.1,348.5 L300.0,348.9 L301.0,349.2 L301.8,349.6 L302.6,349.9 L303.3,350.1 L304.1,350.4 L304.7,350.7 L305.4,350.9 L306.0,351.1 L306.5,351.3 L307.0,351.5 L307.5,351.7 L307.8,351.8 L308.1,351.9 L309.9,347.1 L309.6,346.9 L309.2,346.8 L308.7,346.7 L308.3,346.5 L307.7,346.3 L307.1,346.1 L306.5,345.9 L305.8,345.7 L305.1,345.4 L304.4,345.1 L303.6,344.8 L302.7,344.5 L301.8,344.2 L300.9,343.8 L299.9,343.4 L298.9,343.1 L297.8,342.7 L296.8,342.3 L295.9,341.9 L294.9,341.5 L294.0,341.2 L293.2,340.8 L292.3,340.4 L291.4,340.0 L290.5,339.6 L289.5,339.2 L288.6,338.8 L287.7,338.4 L286.7,338.1 L285.7,337.7 L284.7,337.4 L283.6,337.2 L282.5,336.9 L281.5,336.7 L280.4,336.5 L279.4,336.3 L278.5,336.1 L277.7,336.0 L277.0,335.8 L276.5,335.7 Z" fill="#100d0d"/><circle cx="276.0" cy="338.0" r="2.30" fill="#100d0d"/><circle cx="309.0" cy="349.5" r="2.60" fill="#100d0d"/><path d="M317.5,312.5 L317.2,313.2 L316.9,314.1 L316.5,315.2 L316.0,316.4 L315.5,317.8 L315.0,319.1 L314.5,320.5 L314.1,321.9 L313.6,323.2 L313.2,324.4 L312.8,325.5 L312.4,326.6 L312.0,327.7 L311.6,328.8 L311.2,329.9 L310.8,331.0 L310.4,332.1 L310.0,333.2 L309.7,334.3 L309.3,335.4 L309.0,336.6 L308.6,337.8 L308.3,339.1 L308.0,340.4 L307.7,341.7 L307.4,342.9 L307.1,344.0 L306.8,345.0 L306.6,345.8 L306.5,346.4 L311.5,347.6 L311.7,346.9 L311.8,346.0 L312.0,345.0 L312.2,343.9 L312.4,342.7 L312.7,341.5 L312.9,340.2 L313.2,338.9 L313.4,337.7 L313.7,336.6 L314.0,335.5 L314.2,334.4 L314.5,333.4 L314.8,332.3 L315.2,331.2 L315.5,330.1 L315.8,329.0 L316.1,327.9 L316.5,326.8 L316.8,325.6 L317.2,324.4 L317.6,323.1 L318.0,321.7 L318.5,320.3 L318.9,318.9 L319.3,317.5 L319.7,316.3 L320.0,315.2 L320.3,314.2 L320.5,313.5 Z" fill="#100d0d"/><circle cx="319.0" cy="313.0" r="1.60" fill="#100d0d"/><circle cx="309.0" cy="347.0" r="2.60" fill="#100d0d"/><path d="M837.2,195.3 L836.2,196.8 L834.9,198.7 L833.4,200.9 L831.6,203.3 L829.8,206.0 L827.9,208.8 L825.9,211.6 L823.9,214.5 L822.0,217.2 L820.2,219.7 L818.4,222.1 L816.6,224.6 L814.8,227.0 L813.0,229.5 L811.2,231.9 L809.4,234.4 L807.5,236.8 L805.7,239.2 L803.8,241.7 L801.9,244.1 L800.0,246.6 L798.0,249.0 L796.1,251.4 L794.1,253.8 L792.1,256.3 L790.1,258.7 L788.1,261.1 L786.1,263.6 L784.0,266.0 L781.9,268.4 L779.9,270.9 L777.8,273.3 L775.6,275.7 L773.5,278.2 L771.4,280.6 L769.2,283.0 L767.0,285.5 L764.8,287.9 L762.6,290.3 L760.4,292.8 L758.1,295.2 L755.9,297.6 L753.6,300.1 L751.3,302.5 L749.0,304.9 L746.6,307.4 L744.3,309.8 L741.9,312.2 L739.5,314.7 L737.1,317.1 L734.7,319.6 L732.2,322.0 L729.8,324.5 L727.3,326.9 L724.8,329.4 L722.3,331.8 L719.8,334.3 L717.3,336.7 L714.7,339.1 L712.1,341.6 L709.4,344.1 L706.5,346.8 L703.4,349.6 L700.2,352.5 L697.1,355.3 L694.2,357.9 L691.4,360.4 L688.9,362.6 L686.8,364.5 L685.2,366.0 L689.8,371.0 L691.4,369.6 L693.5,367.7 L696.0,365.5 L698.7,363.1 L701.7,360.4 L704.8,357.6 L708.0,354.7 L711.1,351.9 L714.1,349.2 L716.9,346.6 L719.5,344.2 L722.1,341.7 L724.6,339.3 L727.2,336.8 L729.7,334.3 L732.2,331.9 L734.7,329.4 L737.2,327.0 L739.7,324.5 L742.1,322.1 L744.5,319.6 L746.9,317.2 L749.3,314.7 L751.7,312.3 L754.1,309.8 L756.4,307.4 L758.7,305.0 L761.1,302.5 L763.3,300.1 L765.6,297.6 L767.9,295.2 L770.1,292.7 L772.3,290.3 L774.6,287.8 L776.7,285.4 L778.9,282.9 L781.1,280.5 L783.2,278.1 L785.3,275.6 L787.5,273.2 L789.6,270.7 L791.6,268.3 L793.7,265.8 L795.7,263.4 L797.8,260.9 L799.8,258.5 L801.8,256.0 L803.8,253.6 L805.7,251.1 L807.7,248.7 L809.6,246.2 L811.5,243.8 L813.4,241.3 L815.3,238.8 L817.2,236.4 L819.0,233.9 L820.8,231.5 L822.6,229.0 L824.4,226.5 L826.2,224.1 L828.1,221.5 L830.0,218.8 L832.0,216.0 L834.0,213.1 L836.0,210.3 L837.9,207.7 L839.6,205.2 L841.1,203.0 L842.4,201.1 L843.4,199.7 Z" fill="#100d0d"/><circle cx="840.3" cy="197.5" r="3.80" fill="#100d0d"/><circle cx="687.5" cy="368.5" r="3.40" fill="#100d0d"/><path d="M681.8,324.7 L681.8,326.0 L682.0,327.7 L682.1,329.8 L682.2,332.1 L682.4,334.6 L682.5,337.1 L682.6,339.8 L682.8,342.4 L682.9,344.8 L683.1,347.2 L683.2,349.4 L683.4,351.9 L683.5,354.4 L683.7,356.9 L683.8,359.3 L683.9,361.6 L684.1,363.8 L684.2,365.7 L684.3,367.4 L684.4,368.6 L690.6,368.4 L690.6,367.1 L690.5,365.4 L690.5,363.5 L690.4,361.3 L690.3,359.0 L690.2,356.6 L690.2,354.0 L690.1,351.6 L690.0,349.1 L689.9,346.8 L689.8,344.5 L689.8,342.0 L689.7,339.5 L689.6,336.8 L689.5,334.2 L689.4,331.8 L689.4,329.5 L689.3,327.4 L689.3,325.7 L689.2,324.3 Z" fill="#100d0d"/><circle cx="685.5" cy="324.5" r="3.75" fill="#100d0d"/><circle cx="687.5" cy="368.5" r="3.10" fill="#100d0d"/><path d="M686.0,372.2 L687.4,372.3 L689.2,372.3 L691.4,372.3 L693.9,372.3 L696.5,372.4 L699.3,372.4 L702.1,372.4 L704.9,372.4 L707.6,372.4 L710.1,372.3 L712.6,372.2 L715.2,372.1 L717.9,372.0 L720.6,371.8 L723.3,371.7 L725.8,371.5 L728.2,371.3 L730.2,371.2 L732.0,371.1 L733.4,371.0 L733.0,365.0 L731.6,365.1 L729.9,365.2 L727.8,365.3 L725.4,365.4 L722.9,365.6 L720.3,365.7 L717.6,365.8 L714.9,365.9 L712.4,366.0 L709.9,366.1 L707.5,366.1 L704.9,366.1 L702.1,366.1 L699.3,366.0 L696.6,366.0 L694.0,365.9 L691.5,365.9 L689.3,365.8 L687.5,365.8 L686.0,365.8 Z" fill="#100d0d"/><circle cx="686.0" cy="369.0" r="3.25" fill="#100d0d"/><circle cx="733.2" cy="368.0" r="3.00" fill="#100d0d"/><path d="M242.2,878.7 L240.1,876.9 L237.5,874.5 L234.3,871.7 L230.8,868.6 L227.0,865.2 L223.0,861.6 L219.1,858.1 L215.2,854.6 L211.5,851.3 L208.1,848.3 L205.0,845.4 L201.8,842.5 L198.6,839.6 L195.5,836.8 L192.5,834.0 L189.5,831.2 L186.6,828.6 L183.9,826.1 L181.3,823.7 L178.8,821.4 L176.5,819.3 L174.4,817.4 L172.4,815.6 L170.5,813.9 L168.8,812.3 L167.1,810.8 L165.5,809.3 L164.1,807.9 L162.7,806.5 L161.3,805.2 L160.1,803.8 L158.9,802.4 L157.7,801.1 L156.7,799.8 L155.7,798.5 L154.8,797.3 L154.0,796.2 L153.3,795.2 L152.6,794.3 L152.1,793.6 L147.9,796.8 L148.4,797.4 L149.0,798.3 L149.8,799.3 L150.6,800.4 L151.5,801.7 L152.5,803.0 L153.6,804.4 L154.8,805.9 L156.1,807.3 L157.5,808.8 L158.9,810.3 L160.4,811.7 L161.9,813.2 L163.5,814.7 L165.2,816.2 L166.9,817.8 L168.8,819.6 L170.8,821.4 L172.9,823.3 L175.2,825.4 L177.6,827.6 L180.2,830.0 L182.9,832.6 L185.8,835.2 L188.8,838.0 L191.8,840.8 L194.9,843.7 L198.1,846.5 L201.3,849.4 L204.5,852.3 L207.8,855.4 L211.5,858.7 L215.4,862.2 L219.3,865.8 L223.3,869.3 L227.1,872.7 L230.6,875.9 L233.7,878.7 L236.4,881.1 L238.4,882.9 Z" fill="#100d0d"/><circle cx="240.3" cy="880.8" r="2.80" fill="#100d0d"/><circle cx="150.0" cy="795.2" r="2.60" fill="#100d0d"/><path d="M148.9,795.2 L149.5,795.3 L150.4,795.3 L151.3,795.3 L152.4,795.4 L153.6,795.4 L154.9,795.5 L156.2,795.5 L157.5,795.6 L158.7,795.6 L160.0,795.6 L161.2,795.6 L162.6,795.6 L164.0,795.7 L165.4,795.8 L166.8,795.9 L168.2,796.0 L169.5,796.1 L170.6,796.2 L171.6,796.3 L172.3,796.4 L172.3,790.6 L171.5,790.7 L170.6,790.8 L169.5,790.9 L168.2,791.0 L166.8,791.1 L165.4,791.2 L164.0,791.3 L162.6,791.4 L161.3,791.4 L160.0,791.4 L158.9,791.3 L157.6,791.3 L156.4,791.2 L155.1,791.1 L153.8,791.1 L152.7,791.0 L151.6,790.9 L150.6,790.9 L149.8,790.8 L149.1,790.8 Z" fill="#100d0d"/><circle cx="149.0" cy="793.0" r="2.25" fill="#100d0d"/><circle cx="172.3" cy="793.5" r="2.90" fill="#100d0d"/><path d="M148.0,795.8 L148.0,796.5 L148.0,797.4 L148.0,798.5 L148.0,799.7 L148.0,801.0 L147.9,802.4 L147.9,803.8 L147.9,805.2 L147.8,806.5 L147.8,807.8 L147.7,809.1 L147.6,810.6 L147.5,812.1 L147.5,813.6 L147.4,815.1 L147.3,816.6 L147.2,817.9 L147.1,819.1 L147.1,820.1 L147.1,820.9 L148.3,821.1 L148.5,820.3 L148.7,819.3 L149.0,818.1 L149.2,816.8 L149.5,815.4 L149.8,813.9 L150.1,812.4 L150.3,810.9 L150.6,809.5 L150.8,808.2 L151.1,806.9 L151.3,805.5 L151.6,804.1 L151.8,802.7 L152.0,801.4 L152.2,800.1 L152.4,798.9 L152.6,797.8 L152.8,796.9 L153.0,796.2 Z" fill="#100d0d"/><circle cx="150.5" cy="796.0" r="2.50" fill="#100d0d"/><path d="M752.6,867.9 L752.8,866.4 L753.0,864.6 L753.3,862.3 L753.6,859.8 L754.0,857.1 L754.3,854.3 L754.7,851.4 L755.1,848.6 L755.4,845.8 L755.8,843.3 L756.2,840.8 L756.5,838.4 L756.9,835.9 L757.2,833.5 L757.6,831.0 L758.0,828.6 L758.4,826.1 L758.8,823.7 L759.2,821.2 L759.6,818.8 L760.0,816.3 L760.5,813.9 L760.9,811.4 L761.4,808.9 L761.8,806.5 L762.3,804.0 L762.8,801.6 L763.3,799.1 L763.7,796.6 L764.2,794.2 L764.7,791.7 L765.2,789.2 L765.7,786.8 L766.2,784.3 L766.8,781.8 L767.3,779.4 L767.8,776.9 L768.3,774.5 L768.9,772.0 L769.4,769.6 L770.0,767.1 L770.6,764.7 L771.2,762.2 L771.8,759.8 L772.4,757.3 L773.0,754.9 L773.6,752.4 L774.2,750.0 L774.8,747.5 L775.5,745.1 L776.1,742.6 L776.7,740.1 L777.4,737.7 L778.0,735.2 L778.6,732.7 L779.3,730.3 L779.9,727.8 L780.6,725.4 L781.3,722.9 L782.0,720.4 L782.7,718.0 L783.4,715.5 L784.1,713.1 L784.8,710.6 L785.5,708.1 L786.3,705.7 L787.0,703.2 L787.8,700.8 L788.5,698.3 L789.3,695.8 L790.0,693.4 L790.8,690.9 L791.6,688.5 L792.4,686.0 L793.2,683.5 L794.0,681.1 L794.8,678.6 L795.6,676.2 L796.4,673.8 L797.3,671.4 L798.1,668.9 L799.1,666.2 L800.1,663.5 L801.1,660.7 L802.1,658.0 L803.0,655.5 L803.9,653.1 L804.7,651.0 L805.4,649.1 L805.9,647.7 L799.1,645.3 L798.6,646.7 L797.9,648.5 L797.2,650.6 L796.3,653.0 L795.3,655.6 L794.3,658.3 L793.3,661.1 L792.4,663.8 L791.4,666.5 L790.5,669.0 L789.7,671.5 L788.9,673.9 L788.1,676.4 L787.2,678.9 L786.4,681.3 L785.6,683.8 L784.9,686.3 L784.1,688.8 L783.3,691.3 L782.5,693.8 L781.8,696.2 L781.0,698.7 L780.3,701.2 L779.5,703.7 L778.8,706.1 L778.1,708.6 L777.3,711.1 L776.6,713.6 L775.9,716.1 L775.2,718.6 L774.5,721.0 L773.9,723.5 L773.2,726.0 L772.5,728.5 L771.9,731.0 L771.3,733.5 L770.6,735.9 L770.0,738.4 L769.4,740.9 L768.7,743.3 L768.1,745.8 L767.5,748.3 L766.9,750.7 L766.3,753.2 L765.7,755.7 L765.1,758.1 L764.5,760.6 L763.9,763.1 L763.3,765.6 L762.8,768.0 L762.2,770.5 L761.7,773.0 L761.1,775.5 L760.6,778.0 L760.1,780.4 L759.6,782.9 L759.0,785.4 L758.5,787.9 L758.1,790.4 L757.6,792.8 L757.1,795.3 L756.6,797.8 L756.1,800.3 L755.7,802.8 L755.2,805.2 L754.7,807.7 L754.3,810.2 L753.8,812.7 L753.4,815.2 L753.0,817.6 L752.6,820.1 L752.2,822.6 L751.8,825.1 L751.4,827.5 L751.0,830.0 L750.6,832.5 L750.3,834.9 L749.9,837.4 L749.5,839.9 L749.2,842.3 L748.8,844.9 L748.5,847.7 L748.1,850.6 L747.7,853.4 L747.4,856.3 L747.0,859.0 L746.7,861.5 L746.4,863.7 L746.2,865.6 L746.0,867.1 Z" fill="#100d0d"/><circle cx="749.3" cy="867.5" r="3.30" fill="#100d0d"/><circle cx="802.5" cy="646.5" r="3.60" fill="#100d0d"/><path d="M759.3,671.0 L760.3,670.8 L761.5,670.5 L763.0,670.1 L764.6,669.7 L766.4,669.2 L768.2,668.6 L770.1,668.1 L771.9,667.5 L773.7,666.9 L775.4,666.4 L776.9,665.9 L778.6,665.4 L780.2,664.8 L781.8,664.3 L783.4,663.7 L785.0,663.2 L786.5,662.5 L788.0,661.8 L789.4,661.1 L790.8,660.4 L792.1,659.6 L793.4,658.8 L794.5,658.0 L795.7,657.2 L796.8,656.4 L797.8,655.7 L798.7,654.9 L799.6,654.1 L800.5,653.4 L801.3,652.7 L802.0,652.0 L802.8,651.3 L803.5,650.5 L804.1,649.8 L804.6,649.2 L805.1,648.6 L805.5,648.0 L805.8,647.6 L806.1,647.2 L806.3,647.0 L801.1,643.0 L800.9,643.4 L800.5,643.9 L800.2,644.4 L799.9,644.9 L799.5,645.4 L799.1,646.0 L798.7,646.5 L798.2,647.1 L797.7,647.7 L797.1,648.3 L796.4,648.9 L795.7,649.6 L794.9,650.3 L794.0,651.1 L793.1,651.8 L792.2,652.6 L791.2,653.3 L790.2,654.0 L789.1,654.8 L788.0,655.4 L786.8,656.1 L785.5,656.8 L784.2,657.5 L782.8,658.1 L781.3,658.9 L779.8,659.6 L778.3,660.4 L776.8,661.1 L775.3,661.9 L773.8,662.6 L772.3,663.3 L770.6,664.1 L768.9,664.9 L767.1,665.6 L765.4,666.4 L763.7,667.1 L762.1,667.8 L760.8,668.4 L759.6,668.9 L758.7,669.4 Z" fill="#100d0d"/><circle cx="803.7" cy="645.0" r="3.25" fill="#100d0d"/><path d="M800.6,646.1 L800.8,646.6 L801.0,647.3 L801.3,648.1 L801.6,649.0 L801.9,650.0 L802.3,651.1 L802.8,652.3 L803.3,653.5 L803.8,654.8 L804.5,656.1 L805.1,657.4 L805.9,658.8 L806.7,660.2 L807.6,661.7 L808.5,663.2 L809.4,664.6 L810.3,666.1 L811.1,667.6 L811.9,668.9 L812.7,670.2 L813.4,671.6 L814.2,673.0 L814.9,674.4 L815.7,675.8 L816.4,677.2 L817.1,678.5 L817.8,679.7 L818.3,680.8 L818.8,681.8 L819.2,682.5 L825.2,679.3 L824.8,678.6 L824.3,677.7 L823.8,676.6 L823.1,675.4 L822.4,674.0 L821.6,672.6 L820.9,671.2 L820.1,669.8 L819.3,668.3 L818.5,667.0 L817.7,665.6 L816.9,664.1 L816.0,662.7 L815.1,661.2 L814.2,659.7 L813.3,658.3 L812.4,656.9 L811.7,655.5 L811.0,654.3 L810.3,653.1 L809.8,652.0 L809.3,651.0 L808.9,649.9 L808.5,648.8 L808.1,647.8 L807.8,646.9 L807.5,646.0 L807.2,645.2 L807.0,644.5 L806.8,643.9 Z" fill="#100d0d"/><circle cx="803.7" cy="645.0" r="3.25" fill="#100d0d"/><circle cx="822.2" cy="680.9" r="3.40" fill="#100d0d"/></g>
<g class="halo"><text transform="translate(43.41,0) scale(0.9970,1)" x="100" y="121.6">Reflective</text><text transform="translate(-15.14,0) scale(1.0169,1)" x="100" y="179.0">Built-In</text><text transform="translate(149.49,0) scale(0.9836,1)" x="100" y="179.0">Harness</text><text transform="translate(545.42,0) scale(1.0548,1)" x="100" y="121.5">Warm</text><text transform="translate(676.55,0) scale(1.0750,1)" x="100" y="121.5">&amp;</text><text transform="translate(729.59,0) scale(0.9741,1)" x="100" y="121.5">Thick</text><text transform="translate(564.97,0) scale(0.9963,1)" x="100" y="179.0">Cotton</text><text transform="translate(709.46,0) scale(1.0392,1)" x="100" y="179.0">Inner</text><text transform="translate(4.77,0) scale(0.9052,1)" x="100" y="919.4">Easy</text><text transform="translate(97.87,0) scale(0.9984,1)" x="100" y="919.4">ON</text><text transform="translate(173.73,0) scale(0.9958,1)" x="100" y="919.4">Zipper</text><text transform="translate(504.38,0) scale(1.0637,1)" x="100" y="919.4">Water</text><text transform="translate(648.58,0) scale(0.9886,1)" x="100" y="919.4">Repelling</text></g>
<g><text transform="translate(43.41,0) scale(0.9970,1)" x="100" y="121.6">Reflective</text><text transform="translate(-15.14,0) scale(1.0169,1)" x="100" y="179.0">Built-In</text><text transform="translate(149.49,0) scale(0.9836,1)" x="100" y="179.0">Harness</text><text transform="translate(545.42,0) scale(1.0548,1)" x="100" y="121.5">Warm</text><text transform="translate(676.55,0) scale(1.0750,1)" x="100" y="121.5">&amp;</text><text transform="translate(729.59,0) scale(0.9741,1)" x="100" y="121.5">Thick</text><text transform="translate(564.97,0) scale(0.9963,1)" x="100" y="179.0">Cotton</text><text transform="translate(709.46,0) scale(1.0392,1)" x="100" y="179.0">Inner</text><text transform="translate(4.77,0) scale(0.9052,1)" x="100" y="919.4">Easy</text><text transform="translate(97.87,0) scale(0.9984,1)" x="100" y="919.4">ON</text><text transform="translate(173.73,0) scale(0.9958,1)" x="100" y="919.4">Zipper</text><text transform="translate(504.38,0) scale(1.0637,1)" x="100" y="919.4">Water</text><text transform="translate(648.58,0) scale(0.9886,1)" x="100" y="919.4">Repelling</text></g>
</svg>
</body></html>
